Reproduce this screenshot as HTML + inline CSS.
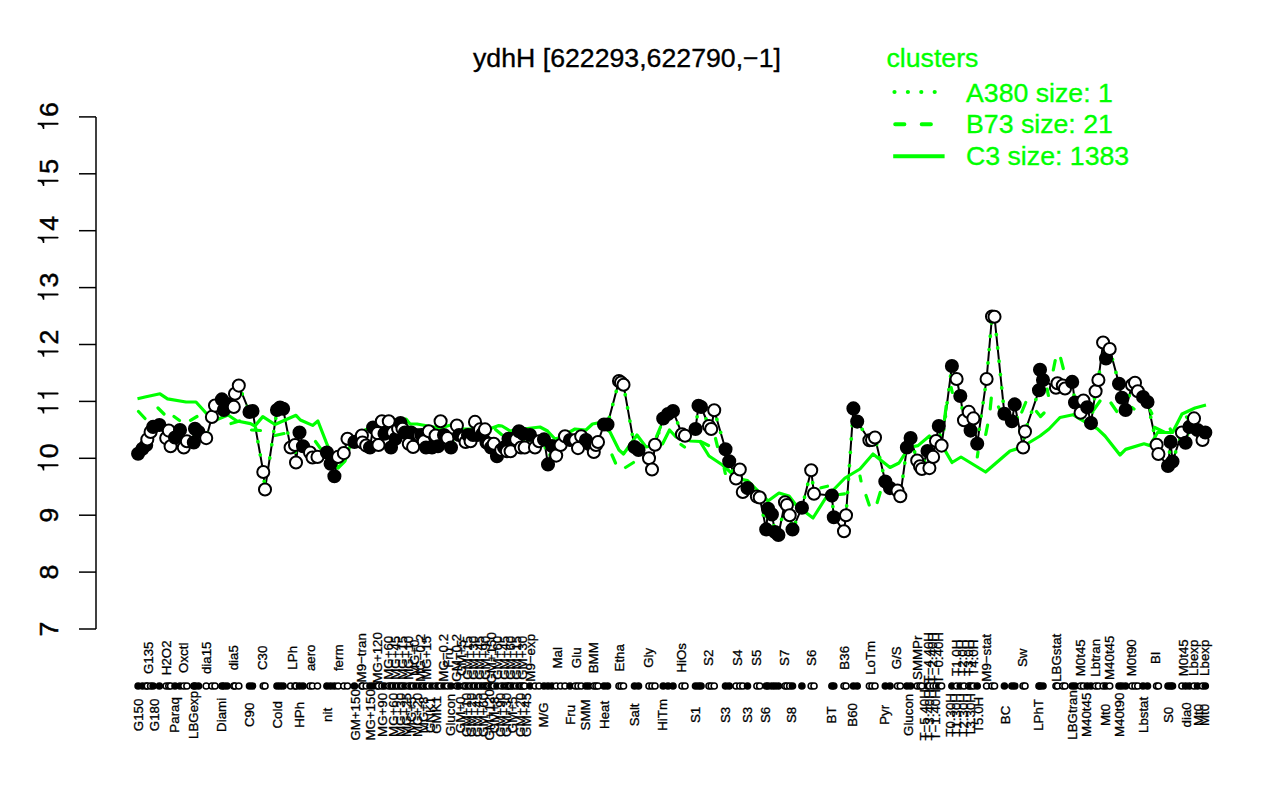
<!DOCTYPE html><html><head><meta charset="utf-8"><style>html,body{margin:0;padding:0;background:#fff;}svg{display:block}</style></head><body>
<svg width="1280" height="800" viewBox="0 0 1280 800" font-family="&quot;Liberation Sans&quot;, sans-serif">
<rect width="1280" height="800" fill="#fff"/>
<text x="473" y="67" font-size="26.7" fill="#000" stroke="#000" stroke-width="0.35">ydhH [622293,622790,−1]</text>
<text x="886.5" y="67.2" font-size="26.7" fill="#00ff00" stroke="#00ff00" stroke-width="0.35">clusters</text>
<line x1="894.5" y1="92" x2="944" y2="92" stroke="#00ff00" stroke-width="4.2" stroke-linecap="round" stroke-dasharray="0 13.4"/>
<line x1="895.2" y1="124.2" x2="944" y2="124.2" stroke="#00ff00" stroke-width="4" stroke-linecap="round" stroke-dasharray="9.2 17.3"/>
<line x1="893.2" y1="156.3" x2="944.6" y2="156.3" stroke="#00ff00" stroke-width="4"/>
<text x="966" y="101.9" font-size="26.7" fill="#00ff00" stroke="#00ff00" stroke-width="0.35">A380 size: 1</text>
<text x="966" y="133.4" font-size="26.7" fill="#00ff00" stroke="#00ff00" stroke-width="0.35">B73 size: 21</text>
<text x="966" y="165.3" font-size="26.7" fill="#00ff00" stroke="#00ff00" stroke-width="0.35">C3 size: 1383</text>
<path d="M96 116.9V629" stroke="#000" stroke-width="1.5" fill="none"/>
<path d="M79 629.00H96" stroke="#000" stroke-width="1.5"/>
<text transform="translate(57.6 629.00) rotate(-90)" text-anchor="middle" font-size="26.7" fill="#000" stroke="#000" stroke-width="0.45">7</text>
<path d="M79 572.10H96" stroke="#000" stroke-width="1.5"/>
<text transform="translate(57.6 572.10) rotate(-90)" text-anchor="middle" font-size="26.7" fill="#000" stroke="#000" stroke-width="0.45">8</text>
<path d="M79 515.20H96" stroke="#000" stroke-width="1.5"/>
<text transform="translate(57.6 515.20) rotate(-90)" text-anchor="middle" font-size="26.7" fill="#000" stroke="#000" stroke-width="0.45">9</text>
<path d="M79 458.30H96" stroke="#000" stroke-width="1.5"/>
<path d="M38.4 465.20H57.6" stroke="#000" stroke-width="1.95" stroke-linecap="round"/>
<path d="M38.2 464.30L38.6 465.50Q42.4 466.40 42.9 470.50L44.3 470.50L44.3 466.10Z" fill="#000"/>
<text transform="translate(57.6 450.90) rotate(-90)" text-anchor="middle" font-size="26.7" fill="#000" stroke="#000" stroke-width="0.45">0</text>
<path d="M79 401.40H96" stroke="#000" stroke-width="1.5"/>
<path d="M38.4 408.30H57.6" stroke="#000" stroke-width="1.95" stroke-linecap="round"/>
<path d="M38.2 407.40L38.6 408.60Q42.4 409.50 42.9 413.60L44.3 413.60L44.3 409.20Z" fill="#000"/>
<path d="M38.4 393.50H57.6" stroke="#000" stroke-width="1.95" stroke-linecap="round"/>
<path d="M38.2 392.60L38.6 393.80Q42.4 394.70 42.9 398.80L44.3 398.80L44.3 394.40Z" fill="#000"/>
<path d="M79 344.50H96" stroke="#000" stroke-width="1.5"/>
<path d="M38.4 351.40H57.6" stroke="#000" stroke-width="1.95" stroke-linecap="round"/>
<path d="M38.2 350.50L38.6 351.70Q42.4 352.60 42.9 356.70L44.3 356.70L44.3 352.30Z" fill="#000"/>
<text transform="translate(57.6 337.10) rotate(-90)" text-anchor="middle" font-size="26.7" fill="#000" stroke="#000" stroke-width="0.45">2</text>
<path d="M79 287.60H96" stroke="#000" stroke-width="1.5"/>
<path d="M38.4 294.50H57.6" stroke="#000" stroke-width="1.95" stroke-linecap="round"/>
<path d="M38.2 293.60L38.6 294.80Q42.4 295.70 42.9 299.80L44.3 299.80L44.3 295.40Z" fill="#000"/>
<text transform="translate(57.6 280.20) rotate(-90)" text-anchor="middle" font-size="26.7" fill="#000" stroke="#000" stroke-width="0.45">3</text>
<path d="M79 230.70H96" stroke="#000" stroke-width="1.5"/>
<path d="M38.4 237.60H57.6" stroke="#000" stroke-width="1.95" stroke-linecap="round"/>
<path d="M38.2 236.70L38.6 237.90Q42.4 238.80 42.9 242.90L44.3 242.90L44.3 238.50Z" fill="#000"/>
<text transform="translate(57.6 223.30) rotate(-90)" text-anchor="middle" font-size="26.7" fill="#000" stroke="#000" stroke-width="0.45">4</text>
<path d="M79 173.80H96" stroke="#000" stroke-width="1.5"/>
<path d="M38.4 180.70H57.6" stroke="#000" stroke-width="1.95" stroke-linecap="round"/>
<path d="M38.2 179.80L38.6 181.00Q42.4 181.90 42.9 186.00L44.3 186.00L44.3 181.60Z" fill="#000"/>
<text transform="translate(57.6 166.40) rotate(-90)" text-anchor="middle" font-size="26.7" fill="#000" stroke="#000" stroke-width="0.45">5</text>
<path d="M79 116.90H96" stroke="#000" stroke-width="1.5"/>
<path d="M38.4 123.80H57.6" stroke="#000" stroke-width="1.95" stroke-linecap="round"/>
<path d="M38.2 122.90L38.6 124.10Q42.4 125.00 42.9 129.10L44.3 129.10L44.3 124.70Z" fill="#000"/>
<text transform="translate(57.6 109.50) rotate(-90)" text-anchor="middle" font-size="26.7" fill="#000" stroke="#000" stroke-width="0.45">6</text>
<path d="M138.1 453.8 L142.5 448.8 L146.2 445.0 L147.3 439.4 L150.6 431.9 L153.1 426.9 L159.4 425.0 L166.2 438.1 L168.8 430.6 L170.6 446.2 L175.0 437.5 L180.0 430.0 L183.8 447.5 L186.9 441.2 L193.8 442.5 L195.0 428.8 L198.5 432.0 L206.2 438.1 L211.9 416.9 L215.0 405.6 L221.9 399.4 L223.8 410.0 L227.0 404.0 L233.8 406.9 L235.0 393.8 L238.8 385.6 L249.5 411.9 L252.5 411.0 L263.3 472.0 L265.0 489.5 L277.0 410.0 L280.0 407.5 L283.1 408.8 L290.6 447.5 L295.0 445.0 L296.0 462.5 L299.5 432.5 L303.0 446.2 L310.0 452.5 L312.5 457.5 L317.5 456.9 L326.9 452.5 L330.6 463.8 L334.4 476.2 L338.1 456.9 L343.8 453.1 L347.5 438.8 L354.4 441.9 L361.9 435.6 L362.5 442.5 L366.2 445.6 L370.0 447.5 L373.1 427.5 L377.5 433.1 L378.5 445.0 L381.9 421.2 L384.5 433.8 L388.8 421.2 L391.0 447.5 L393.1 432.5 L395.5 438.8 L398.1 428.8 L400.5 423.1 L402.5 428.8 L405.0 432.5 L408.8 443.8 L411.0 432.5 L413.1 446.9 L416.0 435.0 L419.4 435.6 L421.5 435.0 L423.8 441.2 L426.0 447.5 L428.8 431.2 L432.0 447.5 L435.6 435.6 L438.0 446.2 L440.6 421.2 L444.0 435.0 L447.5 438.1 L451.0 447.5 L456.9 425.6 L459.0 435.0 L463.8 437.5 L465.6 442.0 L468.0 435.0 L470.6 441.2 L473.0 435.0 L475.0 421.9 L477.5 435.0 L480.0 429.4 L482.5 433.8 L485.0 429.4 L486.5 442.5 L488.8 443.8 L491.0 447.5 L493.8 443.8 L497.0 456.2 L501.2 450.0 L504.0 447.5 L506.9 451.2 L508.5 438.8 L510.6 451.2 L513.0 438.8 L516.2 439.4 L519.0 431.2 L521.0 447.5 L523.0 433.8 L524.7 447.5 L530.0 435.0 L535.0 447.5 L539.0 441.2 L544.0 439.4 L548.0 464.4 L552.0 446.0 L556.2 455.6 L560.6 445.0 L565.0 436.2 L570.0 440.0 L575.3 440.0 L578.0 448.1 L581.2 436.2 L586.0 440.0 L589.0 444.0 L593.8 452.0 L596.0 445.0 L598.0 442.0 L604.0 424.5 L607.5 424.5 L619.0 381.0 L621.0 382.5 L623.5 384.8 L634.5 447.0 L638.5 450.0 L649.0 458.2 L652.0 469.5 L655.0 444.8 L663.2 418.5 L668.0 414.0 L673.0 411.0 L682.0 434.2 L685.0 435.8 L695.5 429.0 L698.5 405.8 L701.0 407.0 L709.0 426.0 L711.2 429.0 L714.2 410.2 L725.5 449.2 L729.2 461.2 L736.0 478.5 L739.8 469.5 L742.8 491.9 L747.5 488.1 L756.9 496.6 L759.7 497.5 L766.2 529.4 L768.1 508.8 L771.9 514.4 L775.0 532.0 L778.4 535.0 L785.0 502.2 L786.9 505.0 L789.7 515.3 L792.5 529.4 L801.9 507.8 L811.2 470.3 L814.0 493.8 L831.9 495.6 L833.8 517.2 L844.0 531.2 L846.0 515.3 L853.4 408.4 L857.2 421.6 L869.4 440.3 L872.0 440.0 L875.0 437.5 L885.3 481.6 L890.0 488.1 L897.5 490.6 L900.3 496.2 L906.9 447.5 L910.6 438.1 L917.2 460.6 L920.0 466.2 L921.9 469.0 L927.5 451.0 L929.4 468.1 L933.1 456.9 L936.0 441.0 L938.8 426.0 L941.6 445.6 L951.9 366.0 L956.6 379.0 L960.3 396.0 L964.0 420.3 L968.8 411.9 L970.6 430.6 L973.4 418.4 L977.2 443.8 L986.6 379.0 L992.0 316.5 L994.5 316.8 L1004.4 413.8 L1011.9 421.2 L1014.7 404.4 L1023.1 447.5 L1025.0 431.6 L1039.0 390.3 L1040.0 369.7 L1043.0 380.0 L1056.0 387.8 L1057.5 383.2 L1062.8 385.6 L1065.0 388.5 L1072.2 381.9 L1075.0 402.5 L1080.6 412.8 L1083.4 400.6 L1087.2 407.2 L1091.0 423.1 L1095.6 391.2 L1098.4 380.0 L1103.1 342.5 L1106.0 358.4 L1109.7 349.0 L1119.0 383.8 L1121.9 397.8 L1125.6 410.0 L1132.0 385.0 L1135.0 382.8 L1137.8 391.2 L1143.0 397.0 L1147.5 402.0 L1156.6 444.7 L1158.4 454.0 L1168.0 466.0 L1170.6 441.9 L1172.5 461.6 L1181.9 432.5 L1185.6 442.8 L1189.4 426.9 L1194.0 418.4 L1197.5 430.0 L1202.5 440.0 L1205.3 432.5" stroke="#000" stroke-width="2" fill="none"/>
<path d="M138.1 453.8 L142.5 448.8 L146.2 445.0 L147.3 439.4 L150.6 431.9 L153.1 426.9 L159.4 425.0 L166.2 438.1 L168.8 430.6 L170.6 446.2 L175.0 437.5 L180.0 430.0 L183.8 447.5 L186.9 441.2 L193.8 442.5 L195.0 428.8 L198.5 432.0 L206.2 438.1 L211.9 416.9 L215.0 405.6 L221.9 399.4 L223.8 410.0 L227.0 404.0 L233.8 406.9 L235.0 393.8 L238.8 385.6 L249.5 411.9 L252.5 411.0 L263.3 472.0 L265.0 489.5 L277.0 410.0 L280.0 407.5 L283.1 408.8 L290.6 447.5 L295.0 445.0 L296.0 462.5 L299.5 432.5 L303.0 446.2 L310.0 452.5 L312.5 457.5 L317.5 456.9 L326.9 452.5 L330.6 463.8 L334.4 476.2 L338.1 456.9 L343.8 453.1 L347.5 438.8 L354.4 441.9 L361.9 435.6 L362.5 442.5 L366.2 445.6 L370.0 447.5 L373.1 427.5 L377.5 433.1 L378.5 445.0 L381.9 421.2 L384.5 433.8 L388.8 421.2 L391.0 447.5 L393.1 432.5 L395.5 438.8 L398.1 428.8 L400.5 423.1 L402.5 428.8 L405.0 432.5 L408.8 443.8 L411.0 432.5 L413.1 446.9 L416.0 435.0 L419.4 435.6 L421.5 435.0 L423.8 441.2 L426.0 447.5 L428.8 431.2 L432.0 447.5 L435.6 435.6 L438.0 446.2 L440.6 421.2 L444.0 435.0 L447.5 438.1 L451.0 447.5 L456.9 425.6 L459.0 435.0 L463.8 437.5 L465.6 442.0 L468.0 435.0 L470.6 441.2 L473.0 435.0 L475.0 421.9 L477.5 435.0 L480.0 429.4 L482.5 433.8 L485.0 429.4 L486.5 442.5 L488.8 443.8 L491.0 447.5 L493.8 443.8 L497.0 456.2 L501.2 450.0 L504.0 447.5 L506.9 451.2 L508.5 438.8 L510.6 451.2 L513.0 438.8 L516.2 439.4 L519.0 431.2 L521.0 447.5 L523.0 433.8 L524.7 447.5 L530.0 435.0 L535.0 447.5 L539.0 441.2 L544.0 439.4 L548.0 464.4 L552.0 446.0 L556.2 455.6 L560.6 445.0 L565.0 436.2 L570.0 440.0 L575.3 440.0 L578.0 448.1 L581.2 436.2 L586.0 440.0 L589.0 444.0 L593.8 452.0 L596.0 445.0 L598.0 442.0 L604.0 424.5 L607.5 424.5 L619.0 381.0 L621.0 382.5 L623.5 384.8 L634.5 447.0 L638.5 450.0 L649.0 458.2 L652.0 469.5 L655.0 444.8 L663.2 418.5 L668.0 414.0 L673.0 411.0 L682.0 434.2 L685.0 435.8 L695.5 429.0 L698.5 405.8 L701.0 407.0 L709.0 426.0 L711.2 429.0 L714.2 410.2 L725.5 449.2 L729.2 461.2 L736.0 478.5 L739.8 469.5 L742.8 491.9 L747.5 488.1 L756.9 496.6 L759.7 497.5 L766.2 529.4 L768.1 508.8 L771.9 514.4 L775.0 532.0 L778.4 535.0 L785.0 502.2 L786.9 505.0 L789.7 515.3 L792.5 529.4 L801.9 507.8 L811.2 470.3 L814.0 493.8 L831.9 495.6 L833.8 517.2 L844.0 531.2 L846.0 515.3 L853.4 408.4 L857.2 421.6 L869.4 440.3 L872.0 440.0 L875.0 437.5 L885.3 481.6 L890.0 488.1 L897.5 490.6 L900.3 496.2 L906.9 447.5 L910.6 438.1 L917.2 460.6 L920.0 466.2 L921.9 469.0 L927.5 451.0 L929.4 468.1 L933.1 456.9 L936.0 441.0 L938.8 426.0 L941.6 445.6 L951.9 366.0 L956.6 379.0 L960.3 396.0 L964.0 420.3 L968.8 411.9 L970.6 430.6 L973.4 418.4 L977.2 443.8 L986.6 379.0 L992.0 316.5 L994.5 316.8 L1004.4 413.8 L1011.9 421.2 L1014.7 404.4 L1023.1 447.5 L1025.0 431.6 L1039.0 390.3 L1040.0 369.7 L1043.0 380.0 L1056.0 387.8 L1057.5 383.2 L1062.8 385.6 L1065.0 388.5 L1072.2 381.9 L1075.0 402.5 L1080.6 412.8 L1083.4 400.6 L1087.2 407.2 L1091.0 423.1 L1095.6 391.2 L1098.4 380.0 L1103.1 342.5 L1106.0 358.4 L1109.7 349.0 L1119.0 383.8 L1121.9 397.8 L1125.6 410.0 L1132.0 385.0 L1135.0 382.8 L1137.8 391.2 L1143.0 397.0 L1147.5 402.0 L1156.6 444.7 L1158.4 454.0 L1168.0 466.0 L1170.6 441.9 L1172.5 461.6 L1181.9 432.5 L1185.6 442.8 L1189.4 426.9 L1194.0 418.4 L1197.5 430.0 L1202.5 440.0 L1205.3 432.5" stroke="#00ff00" stroke-width="3.8" fill="none" stroke-linecap="round" stroke-dasharray="0 13.4"/>
<path d="M138.5 411.5L145.0 418.5 M158.0 408.0L164.0 414.0 M174.0 416.5L179.5 420.5 M190.5 420.3L197.0 416.5 M231.0 423.5L239.5 421.0 M251.5 430.0L260.5 430.5 M275.0 435.5L284.0 433.5 M315.5 441.5L320.5 448.5 M495.5 429.5L501.5 434.5 M612.0 455.0L615.5 463.0 M625.5 467.5L633.5 462.5 M656.5 436.5L660.5 427.0 M681.0 444.5L684.5 447.0 M700.5 441.5L708.5 445.5 M715.5 438.5L717.5 446.5 M724.2 468.5L725.3 473.5 M821.0 487.8L827.5 486.2 M839.5 494.5L844.5 493.9 M860.0 476.0L861.0 481.0 M866.0 495.5L869.2 505.0 M880.2 492.5L877.2 502.5 M946.2 406.0L944.5 419.5 M951.2 387.5L952.3 392.5 M991.3 398.0L990.2 409.0 M987.6 425.0L985.7 434.5 M978.0 452.0L977.3 457.0 M998.5 407.0L1001.0 412.0 M1025.7 402.5L1021.8 412.0 M1036.5 411.5L1040.5 416.5 M1040.5 416.5L1044.0 413.0 M1047.1 389.0L1048.4 395.5 M1053.3 370.0L1055.2 360.5 M1060.7 358.3L1063.3 368.5 M1094.0 409.5L1100.0 401.0 M1111.0 403.0L1116.8 411.5 M1132.0 407.5L1134.0 409.0 M1150.2 410.3L1151.8 413.5 M1154.3 427.3L1164.5 432.2 M1170.2 429.0L1171.5 432.0 M1186.5 417.0L1188.0 418.5" stroke="#00ff00" stroke-width="3.2" fill="none" stroke-linecap="round"/>
<path d="M137.5 398.8 L145.0 397.0 L160.0 393.8 L167.5 398.8 L186.0 402.0 L196.0 402.0 L206.0 413.0 L216.0 420.0 L228.0 415.0 L237.0 421.0 L250.5 423.6 L254.9 426.0 L262.8 416.6 L275.0 424.5 L282.9 421.0 L296.0 415.3 L300.4 420.0 L312.6 425.4 L317.9 421.0 L327.5 445.5 L338.0 468.0 L345.0 461.0 L350.0 446.0 L365.0 430.0 L392.5 420.0 L406.0 419.0 L410.0 424.0 L417.0 424.0 L428.0 426.0 L440.0 428.0 L451.0 425.0 L456.0 429.0 L471.0 429.0 L490.0 428.8 L498.8 425.6 L502.0 426.0 L510.0 431.0 L515.0 430.0 L540.0 427.0 L547.5 431.0 L555.0 439.0 L560.0 437.5 L575.0 429.0 L586.0 430.0 L592.5 424.0 L600.0 422.5 L610.0 432.0 L619.0 450.0 L623.5 454.0 L637.0 435.0 L646.0 447.0 L662.5 444.0 L669.5 430.0 L676.0 437.0 L690.5 441.0 L700.0 441.5 L709.0 456.0 L722.5 465.0 L737.5 478.5 L747.5 480.6 L768.0 501.0 L779.0 493.0 L789.0 496.0 L796.0 505.0 L813.0 518.0 L826.0 497.5 L845.0 478.0 L860.0 469.0 L873.0 454.0 L890.0 467.5 L899.0 463.0 L908.8 447.5 L918.0 445.6 L929.4 436.0 L944.4 449.4 L952.0 462.5 L961.0 457.0 L985.6 472.0 L1010.0 451.0 L1021.0 447.5 L1040.0 436.0 L1049.0 429.0 L1060.0 417.5 L1073.0 414.7 L1080.6 419.4 L1097.5 428.8 L1105.0 436.0 L1120.0 455.0 L1125.6 449.4 L1144.0 443.8 L1150.0 445.6 L1157.5 432.5 L1172.5 432.5 L1182.0 414.0 L1195.0 408.0 L1206.0 405.0" stroke="#00ff00" stroke-width="3.2" fill="none" stroke-linejoin="round"/>
<circle cx="138.1" cy="453.8" r="6.05" fill="#000" stroke="#000" stroke-width="2"/>
<circle cx="142.5" cy="448.8" r="6.05" fill="#000" stroke="#000" stroke-width="2"/>
<circle cx="146.2" cy="445.0" r="6.05" fill="#000" stroke="#000" stroke-width="2"/>
<circle cx="147.3" cy="439.4" r="6.05" fill="#fff" stroke="#000" stroke-width="2"/>
<circle cx="150.6" cy="431.9" r="6.05" fill="#fff" stroke="#000" stroke-width="2"/>
<circle cx="153.1" cy="426.9" r="6.05" fill="#000" stroke="#000" stroke-width="2"/>
<circle cx="159.4" cy="425.0" r="6.05" fill="#000" stroke="#000" stroke-width="2"/>
<circle cx="166.2" cy="438.1" r="6.05" fill="#fff" stroke="#000" stroke-width="2"/>
<circle cx="168.8" cy="430.6" r="6.05" fill="#fff" stroke="#000" stroke-width="2"/>
<circle cx="170.6" cy="446.2" r="6.05" fill="#fff" stroke="#000" stroke-width="2"/>
<circle cx="175.0" cy="437.5" r="6.05" fill="#000" stroke="#000" stroke-width="2"/>
<circle cx="180.0" cy="430.0" r="6.05" fill="#000" stroke="#000" stroke-width="2"/>
<circle cx="183.8" cy="447.5" r="6.05" fill="#fff" stroke="#000" stroke-width="2"/>
<circle cx="186.9" cy="441.2" r="6.05" fill="#fff" stroke="#000" stroke-width="2"/>
<circle cx="193.8" cy="442.5" r="6.05" fill="#000" stroke="#000" stroke-width="2"/>
<circle cx="195.0" cy="428.8" r="6.05" fill="#000" stroke="#000" stroke-width="2"/>
<circle cx="198.5" cy="432.0" r="6.05" fill="#000" stroke="#000" stroke-width="2"/>
<circle cx="206.2" cy="438.1" r="6.05" fill="#fff" stroke="#000" stroke-width="2"/>
<circle cx="211.9" cy="416.9" r="6.05" fill="#fff" stroke="#000" stroke-width="2"/>
<circle cx="215.0" cy="405.6" r="6.05" fill="#fff" stroke="#000" stroke-width="2"/>
<circle cx="221.9" cy="399.4" r="6.05" fill="#000" stroke="#000" stroke-width="2"/>
<circle cx="223.8" cy="410.0" r="6.05" fill="#000" stroke="#000" stroke-width="2"/>
<circle cx="227.0" cy="404.0" r="6.05" fill="#000" stroke="#000" stroke-width="2"/>
<circle cx="233.8" cy="406.9" r="6.05" fill="#fff" stroke="#000" stroke-width="2"/>
<circle cx="235.0" cy="393.8" r="6.05" fill="#fff" stroke="#000" stroke-width="2"/>
<circle cx="238.8" cy="385.6" r="6.05" fill="#fff" stroke="#000" stroke-width="2"/>
<circle cx="249.5" cy="411.9" r="6.05" fill="#000" stroke="#000" stroke-width="2"/>
<circle cx="252.5" cy="411.0" r="6.05" fill="#000" stroke="#000" stroke-width="2"/>
<circle cx="263.3" cy="472.0" r="6.05" fill="#fff" stroke="#000" stroke-width="2"/>
<circle cx="265.0" cy="489.5" r="6.05" fill="#fff" stroke="#000" stroke-width="2"/>
<circle cx="277.0" cy="410.0" r="6.05" fill="#000" stroke="#000" stroke-width="2"/>
<circle cx="280.0" cy="407.5" r="6.05" fill="#000" stroke="#000" stroke-width="2"/>
<circle cx="283.1" cy="408.8" r="6.05" fill="#000" stroke="#000" stroke-width="2"/>
<circle cx="290.6" cy="447.5" r="6.05" fill="#fff" stroke="#000" stroke-width="2"/>
<circle cx="295.0" cy="445.0" r="6.05" fill="#fff" stroke="#000" stroke-width="2"/>
<circle cx="296.0" cy="462.5" r="6.05" fill="#fff" stroke="#000" stroke-width="2"/>
<circle cx="299.5" cy="432.5" r="6.05" fill="#000" stroke="#000" stroke-width="2"/>
<circle cx="303.0" cy="446.2" r="6.05" fill="#000" stroke="#000" stroke-width="2"/>
<circle cx="310.0" cy="452.5" r="6.05" fill="#fff" stroke="#000" stroke-width="2"/>
<circle cx="312.5" cy="457.5" r="6.05" fill="#fff" stroke="#000" stroke-width="2"/>
<circle cx="317.5" cy="456.9" r="6.05" fill="#fff" stroke="#000" stroke-width="2"/>
<circle cx="326.9" cy="452.5" r="6.05" fill="#000" stroke="#000" stroke-width="2"/>
<circle cx="330.6" cy="463.8" r="6.05" fill="#000" stroke="#000" stroke-width="2"/>
<circle cx="334.4" cy="476.2" r="6.05" fill="#000" stroke="#000" stroke-width="2"/>
<circle cx="338.1" cy="456.9" r="6.05" fill="#fff" stroke="#000" stroke-width="2"/>
<circle cx="343.8" cy="453.1" r="6.05" fill="#fff" stroke="#000" stroke-width="2"/>
<circle cx="347.5" cy="438.8" r="6.05" fill="#fff" stroke="#000" stroke-width="2"/>
<circle cx="354.4" cy="441.9" r="6.05" fill="#000" stroke="#000" stroke-width="2"/>
<circle cx="361.9" cy="435.6" r="6.05" fill="#fff" stroke="#000" stroke-width="2"/>
<circle cx="362.5" cy="442.5" r="6.05" fill="#fff" stroke="#000" stroke-width="2"/>
<circle cx="366.2" cy="445.6" r="6.05" fill="#fff" stroke="#000" stroke-width="2"/>
<circle cx="370.0" cy="447.5" r="6.05" fill="#000" stroke="#000" stroke-width="2"/>
<circle cx="373.1" cy="427.5" r="6.05" fill="#000" stroke="#000" stroke-width="2"/>
<circle cx="377.5" cy="433.1" r="6.05" fill="#fff" stroke="#000" stroke-width="2"/>
<circle cx="378.5" cy="445.0" r="6.05" fill="#fff" stroke="#000" stroke-width="2"/>
<circle cx="381.9" cy="421.2" r="6.05" fill="#fff" stroke="#000" stroke-width="2"/>
<circle cx="384.5" cy="433.8" r="6.05" fill="#000" stroke="#000" stroke-width="2"/>
<circle cx="388.8" cy="421.2" r="6.05" fill="#fff" stroke="#000" stroke-width="2"/>
<circle cx="391.0" cy="447.5" r="6.05" fill="#000" stroke="#000" stroke-width="2"/>
<circle cx="393.1" cy="432.5" r="6.05" fill="#fff" stroke="#000" stroke-width="2"/>
<circle cx="395.5" cy="438.8" r="6.05" fill="#000" stroke="#000" stroke-width="2"/>
<circle cx="398.1" cy="428.8" r="6.05" fill="#fff" stroke="#000" stroke-width="2"/>
<circle cx="400.5" cy="423.1" r="6.05" fill="#000" stroke="#000" stroke-width="2"/>
<circle cx="402.5" cy="428.8" r="6.05" fill="#fff" stroke="#000" stroke-width="2"/>
<circle cx="405.0" cy="432.5" r="6.05" fill="#000" stroke="#000" stroke-width="2"/>
<circle cx="408.8" cy="443.8" r="6.05" fill="#fff" stroke="#000" stroke-width="2"/>
<circle cx="411.0" cy="432.5" r="6.05" fill="#000" stroke="#000" stroke-width="2"/>
<circle cx="413.1" cy="446.9" r="6.05" fill="#fff" stroke="#000" stroke-width="2"/>
<circle cx="416.0" cy="435.0" r="6.05" fill="#000" stroke="#000" stroke-width="2"/>
<circle cx="419.4" cy="435.6" r="6.05" fill="#fff" stroke="#000" stroke-width="2"/>
<circle cx="421.5" cy="435.0" r="6.05" fill="#000" stroke="#000" stroke-width="2"/>
<circle cx="423.8" cy="441.2" r="6.05" fill="#fff" stroke="#000" stroke-width="2"/>
<circle cx="426.0" cy="447.5" r="6.05" fill="#000" stroke="#000" stroke-width="2"/>
<circle cx="428.8" cy="431.2" r="6.05" fill="#fff" stroke="#000" stroke-width="2"/>
<circle cx="432.0" cy="447.5" r="6.05" fill="#000" stroke="#000" stroke-width="2"/>
<circle cx="435.6" cy="435.6" r="6.05" fill="#fff" stroke="#000" stroke-width="2"/>
<circle cx="438.0" cy="446.2" r="6.05" fill="#000" stroke="#000" stroke-width="2"/>
<circle cx="440.6" cy="421.2" r="6.05" fill="#fff" stroke="#000" stroke-width="2"/>
<circle cx="444.0" cy="435.0" r="6.05" fill="#000" stroke="#000" stroke-width="2"/>
<circle cx="447.5" cy="438.1" r="6.05" fill="#fff" stroke="#000" stroke-width="2"/>
<circle cx="451.0" cy="447.5" r="6.05" fill="#000" stroke="#000" stroke-width="2"/>
<circle cx="456.9" cy="425.6" r="6.05" fill="#fff" stroke="#000" stroke-width="2"/>
<circle cx="459.0" cy="435.0" r="6.05" fill="#000" stroke="#000" stroke-width="2"/>
<circle cx="463.8" cy="437.5" r="6.05" fill="#fff" stroke="#000" stroke-width="2"/>
<circle cx="465.6" cy="442.0" r="6.05" fill="#fff" stroke="#000" stroke-width="2"/>
<circle cx="468.0" cy="435.0" r="6.05" fill="#000" stroke="#000" stroke-width="2"/>
<circle cx="470.6" cy="441.2" r="6.05" fill="#fff" stroke="#000" stroke-width="2"/>
<circle cx="473.0" cy="435.0" r="6.05" fill="#000" stroke="#000" stroke-width="2"/>
<circle cx="475.0" cy="421.9" r="6.05" fill="#fff" stroke="#000" stroke-width="2"/>
<circle cx="477.5" cy="435.0" r="6.05" fill="#000" stroke="#000" stroke-width="2"/>
<circle cx="480.0" cy="429.4" r="6.05" fill="#fff" stroke="#000" stroke-width="2"/>
<circle cx="482.5" cy="433.8" r="6.05" fill="#000" stroke="#000" stroke-width="2"/>
<circle cx="485.0" cy="429.4" r="6.05" fill="#fff" stroke="#000" stroke-width="2"/>
<circle cx="486.5" cy="442.5" r="6.05" fill="#000" stroke="#000" stroke-width="2"/>
<circle cx="488.8" cy="443.8" r="6.05" fill="#fff" stroke="#000" stroke-width="2"/>
<circle cx="491.0" cy="447.5" r="6.05" fill="#000" stroke="#000" stroke-width="2"/>
<circle cx="493.8" cy="443.8" r="6.05" fill="#fff" stroke="#000" stroke-width="2"/>
<circle cx="497.0" cy="456.2" r="6.05" fill="#000" stroke="#000" stroke-width="2"/>
<circle cx="501.2" cy="450.0" r="6.05" fill="#fff" stroke="#000" stroke-width="2"/>
<circle cx="504.0" cy="447.5" r="6.05" fill="#000" stroke="#000" stroke-width="2"/>
<circle cx="506.9" cy="451.2" r="6.05" fill="#fff" stroke="#000" stroke-width="2"/>
<circle cx="508.5" cy="438.8" r="6.05" fill="#000" stroke="#000" stroke-width="2"/>
<circle cx="510.6" cy="451.2" r="6.05" fill="#fff" stroke="#000" stroke-width="2"/>
<circle cx="513.0" cy="438.8" r="6.05" fill="#000" stroke="#000" stroke-width="2"/>
<circle cx="516.2" cy="439.4" r="6.05" fill="#fff" stroke="#000" stroke-width="2"/>
<circle cx="519.0" cy="431.2" r="6.05" fill="#000" stroke="#000" stroke-width="2"/>
<circle cx="521.0" cy="447.5" r="6.05" fill="#fff" stroke="#000" stroke-width="2"/>
<circle cx="523.0" cy="433.8" r="6.05" fill="#000" stroke="#000" stroke-width="2"/>
<circle cx="524.7" cy="447.5" r="6.05" fill="#fff" stroke="#000" stroke-width="2"/>
<circle cx="530.0" cy="435.0" r="6.05" fill="#000" stroke="#000" stroke-width="2"/>
<circle cx="535.0" cy="447.5" r="6.05" fill="#fff" stroke="#000" stroke-width="2"/>
<circle cx="539.0" cy="441.2" r="6.05" fill="#fff" stroke="#000" stroke-width="2"/>
<circle cx="544.0" cy="439.4" r="6.05" fill="#000" stroke="#000" stroke-width="2"/>
<circle cx="548.0" cy="464.4" r="6.05" fill="#000" stroke="#000" stroke-width="2"/>
<circle cx="552.0" cy="446.0" r="6.05" fill="#000" stroke="#000" stroke-width="2"/>
<circle cx="556.2" cy="455.6" r="6.05" fill="#fff" stroke="#000" stroke-width="2"/>
<circle cx="560.6" cy="445.0" r="6.05" fill="#fff" stroke="#000" stroke-width="2"/>
<circle cx="565.0" cy="436.2" r="6.05" fill="#fff" stroke="#000" stroke-width="2"/>
<circle cx="570.0" cy="440.0" r="6.05" fill="#000" stroke="#000" stroke-width="2"/>
<circle cx="575.3" cy="440.0" r="6.05" fill="#fff" stroke="#000" stroke-width="2"/>
<circle cx="578.0" cy="448.1" r="6.05" fill="#fff" stroke="#000" stroke-width="2"/>
<circle cx="581.2" cy="436.2" r="6.05" fill="#fff" stroke="#000" stroke-width="2"/>
<circle cx="586.0" cy="440.0" r="6.05" fill="#000" stroke="#000" stroke-width="2"/>
<circle cx="589.0" cy="444.0" r="6.05" fill="#000" stroke="#000" stroke-width="2"/>
<circle cx="593.8" cy="452.0" r="6.05" fill="#fff" stroke="#000" stroke-width="2"/>
<circle cx="596.0" cy="445.0" r="6.05" fill="#fff" stroke="#000" stroke-width="2"/>
<circle cx="598.0" cy="442.0" r="6.05" fill="#fff" stroke="#000" stroke-width="2"/>
<circle cx="604.0" cy="424.5" r="6.05" fill="#000" stroke="#000" stroke-width="2"/>
<circle cx="607.5" cy="424.5" r="6.05" fill="#000" stroke="#000" stroke-width="2"/>
<circle cx="619.0" cy="381.0" r="6.05" fill="#fff" stroke="#000" stroke-width="2"/>
<circle cx="621.0" cy="382.5" r="6.05" fill="#fff" stroke="#000" stroke-width="2"/>
<circle cx="623.5" cy="384.8" r="6.05" fill="#fff" stroke="#000" stroke-width="2"/>
<circle cx="634.5" cy="447.0" r="6.05" fill="#000" stroke="#000" stroke-width="2"/>
<circle cx="638.5" cy="450.0" r="6.05" fill="#000" stroke="#000" stroke-width="2"/>
<circle cx="649.0" cy="458.2" r="6.05" fill="#fff" stroke="#000" stroke-width="2"/>
<circle cx="652.0" cy="469.5" r="6.05" fill="#fff" stroke="#000" stroke-width="2"/>
<circle cx="655.0" cy="444.8" r="6.05" fill="#fff" stroke="#000" stroke-width="2"/>
<circle cx="663.2" cy="418.5" r="6.05" fill="#000" stroke="#000" stroke-width="2"/>
<circle cx="668.0" cy="414.0" r="6.05" fill="#000" stroke="#000" stroke-width="2"/>
<circle cx="673.0" cy="411.0" r="6.05" fill="#000" stroke="#000" stroke-width="2"/>
<circle cx="682.0" cy="434.2" r="6.05" fill="#fff" stroke="#000" stroke-width="2"/>
<circle cx="685.0" cy="435.8" r="6.05" fill="#fff" stroke="#000" stroke-width="2"/>
<circle cx="695.5" cy="429.0" r="6.05" fill="#000" stroke="#000" stroke-width="2"/>
<circle cx="698.5" cy="405.8" r="6.05" fill="#000" stroke="#000" stroke-width="2"/>
<circle cx="701.0" cy="407.0" r="6.05" fill="#000" stroke="#000" stroke-width="2"/>
<circle cx="709.0" cy="426.0" r="6.05" fill="#fff" stroke="#000" stroke-width="2"/>
<circle cx="711.2" cy="429.0" r="6.05" fill="#fff" stroke="#000" stroke-width="2"/>
<circle cx="714.2" cy="410.2" r="6.05" fill="#fff" stroke="#000" stroke-width="2"/>
<circle cx="725.5" cy="449.2" r="6.05" fill="#000" stroke="#000" stroke-width="2"/>
<circle cx="729.2" cy="461.2" r="6.05" fill="#000" stroke="#000" stroke-width="2"/>
<circle cx="736.0" cy="478.5" r="6.05" fill="#fff" stroke="#000" stroke-width="2"/>
<circle cx="739.8" cy="469.5" r="6.05" fill="#fff" stroke="#000" stroke-width="2"/>
<circle cx="742.8" cy="491.9" r="6.05" fill="#fff" stroke="#000" stroke-width="2"/>
<circle cx="747.5" cy="488.1" r="6.05" fill="#000" stroke="#000" stroke-width="2"/>
<circle cx="756.9" cy="496.6" r="6.05" fill="#fff" stroke="#000" stroke-width="2"/>
<circle cx="759.7" cy="497.5" r="6.05" fill="#fff" stroke="#000" stroke-width="2"/>
<circle cx="766.2" cy="529.4" r="6.05" fill="#000" stroke="#000" stroke-width="2"/>
<circle cx="768.1" cy="508.8" r="6.05" fill="#000" stroke="#000" stroke-width="2"/>
<circle cx="771.9" cy="514.4" r="6.05" fill="#000" stroke="#000" stroke-width="2"/>
<circle cx="775.0" cy="532.0" r="6.05" fill="#000" stroke="#000" stroke-width="2"/>
<circle cx="778.4" cy="535.0" r="6.05" fill="#000" stroke="#000" stroke-width="2"/>
<circle cx="785.0" cy="502.2" r="6.05" fill="#fff" stroke="#000" stroke-width="2"/>
<circle cx="786.9" cy="505.0" r="6.05" fill="#fff" stroke="#000" stroke-width="2"/>
<circle cx="789.7" cy="515.3" r="6.05" fill="#fff" stroke="#000" stroke-width="2"/>
<circle cx="792.5" cy="529.4" r="6.05" fill="#000" stroke="#000" stroke-width="2"/>
<circle cx="801.9" cy="507.8" r="6.05" fill="#000" stroke="#000" stroke-width="2"/>
<circle cx="811.2" cy="470.3" r="6.05" fill="#fff" stroke="#000" stroke-width="2"/>
<circle cx="814.0" cy="493.8" r="6.05" fill="#fff" stroke="#000" stroke-width="2"/>
<circle cx="831.9" cy="495.6" r="6.05" fill="#000" stroke="#000" stroke-width="2"/>
<circle cx="833.8" cy="517.2" r="6.05" fill="#000" stroke="#000" stroke-width="2"/>
<circle cx="844.0" cy="531.2" r="6.05" fill="#fff" stroke="#000" stroke-width="2"/>
<circle cx="846.0" cy="515.3" r="6.05" fill="#fff" stroke="#000" stroke-width="2"/>
<circle cx="853.4" cy="408.4" r="6.05" fill="#000" stroke="#000" stroke-width="2"/>
<circle cx="857.2" cy="421.6" r="6.05" fill="#000" stroke="#000" stroke-width="2"/>
<circle cx="869.4" cy="440.3" r="6.05" fill="#fff" stroke="#000" stroke-width="2"/>
<circle cx="872.0" cy="440.0" r="6.05" fill="#fff" stroke="#000" stroke-width="2"/>
<circle cx="875.0" cy="437.5" r="6.05" fill="#fff" stroke="#000" stroke-width="2"/>
<circle cx="885.3" cy="481.6" r="6.05" fill="#000" stroke="#000" stroke-width="2"/>
<circle cx="890.0" cy="488.1" r="6.05" fill="#000" stroke="#000" stroke-width="2"/>
<circle cx="897.5" cy="490.6" r="6.05" fill="#fff" stroke="#000" stroke-width="2"/>
<circle cx="900.3" cy="496.2" r="6.05" fill="#fff" stroke="#000" stroke-width="2"/>
<circle cx="906.9" cy="447.5" r="6.05" fill="#000" stroke="#000" stroke-width="2"/>
<circle cx="910.6" cy="438.1" r="6.05" fill="#000" stroke="#000" stroke-width="2"/>
<circle cx="917.2" cy="460.6" r="6.05" fill="#fff" stroke="#000" stroke-width="2"/>
<circle cx="920.0" cy="466.2" r="6.05" fill="#fff" stroke="#000" stroke-width="2"/>
<circle cx="921.9" cy="469.0" r="6.05" fill="#fff" stroke="#000" stroke-width="2"/>
<circle cx="927.5" cy="451.0" r="6.05" fill="#000" stroke="#000" stroke-width="2"/>
<circle cx="929.4" cy="468.1" r="6.05" fill="#fff" stroke="#000" stroke-width="2"/>
<circle cx="933.1" cy="456.9" r="6.05" fill="#fff" stroke="#000" stroke-width="2"/>
<circle cx="936.0" cy="441.0" r="6.05" fill="#fff" stroke="#000" stroke-width="2"/>
<circle cx="938.8" cy="426.0" r="6.05" fill="#000" stroke="#000" stroke-width="2"/>
<circle cx="941.6" cy="445.6" r="6.05" fill="#fff" stroke="#000" stroke-width="2"/>
<circle cx="951.9" cy="366.0" r="6.05" fill="#000" stroke="#000" stroke-width="2"/>
<circle cx="956.6" cy="379.0" r="6.05" fill="#fff" stroke="#000" stroke-width="2"/>
<circle cx="960.3" cy="396.0" r="6.05" fill="#000" stroke="#000" stroke-width="2"/>
<circle cx="964.0" cy="420.3" r="6.05" fill="#fff" stroke="#000" stroke-width="2"/>
<circle cx="968.8" cy="411.9" r="6.05" fill="#fff" stroke="#000" stroke-width="2"/>
<circle cx="970.6" cy="430.6" r="6.05" fill="#000" stroke="#000" stroke-width="2"/>
<circle cx="973.4" cy="418.4" r="6.05" fill="#fff" stroke="#000" stroke-width="2"/>
<circle cx="977.2" cy="443.8" r="6.05" fill="#000" stroke="#000" stroke-width="2"/>
<circle cx="986.6" cy="379.0" r="6.05" fill="#fff" stroke="#000" stroke-width="2"/>
<circle cx="992.0" cy="316.5" r="6.05" fill="#fff" stroke="#000" stroke-width="2"/>
<circle cx="994.5" cy="316.8" r="6.05" fill="#fff" stroke="#000" stroke-width="2"/>
<circle cx="1004.4" cy="413.8" r="6.05" fill="#000" stroke="#000" stroke-width="2"/>
<circle cx="1011.9" cy="421.2" r="6.05" fill="#000" stroke="#000" stroke-width="2"/>
<circle cx="1014.7" cy="404.4" r="6.05" fill="#000" stroke="#000" stroke-width="2"/>
<circle cx="1023.1" cy="447.5" r="6.05" fill="#fff" stroke="#000" stroke-width="2"/>
<circle cx="1025.0" cy="431.6" r="6.05" fill="#fff" stroke="#000" stroke-width="2"/>
<circle cx="1039.0" cy="390.3" r="6.05" fill="#000" stroke="#000" stroke-width="2"/>
<circle cx="1040.0" cy="369.7" r="6.05" fill="#000" stroke="#000" stroke-width="2"/>
<circle cx="1043.0" cy="380.0" r="6.05" fill="#000" stroke="#000" stroke-width="2"/>
<circle cx="1056.0" cy="387.8" r="6.05" fill="#fff" stroke="#000" stroke-width="2"/>
<circle cx="1057.5" cy="383.2" r="6.05" fill="#fff" stroke="#000" stroke-width="2"/>
<circle cx="1062.8" cy="385.6" r="6.05" fill="#fff" stroke="#000" stroke-width="2"/>
<circle cx="1065.0" cy="388.5" r="6.05" fill="#fff" stroke="#000" stroke-width="2"/>
<circle cx="1072.2" cy="381.9" r="6.05" fill="#000" stroke="#000" stroke-width="2"/>
<circle cx="1075.0" cy="402.5" r="6.05" fill="#000" stroke="#000" stroke-width="2"/>
<circle cx="1080.6" cy="412.8" r="6.05" fill="#fff" stroke="#000" stroke-width="2"/>
<circle cx="1083.4" cy="400.6" r="6.05" fill="#fff" stroke="#000" stroke-width="2"/>
<circle cx="1087.2" cy="407.2" r="6.05" fill="#000" stroke="#000" stroke-width="2"/>
<circle cx="1091.0" cy="423.1" r="6.05" fill="#000" stroke="#000" stroke-width="2"/>
<circle cx="1095.6" cy="391.2" r="6.05" fill="#fff" stroke="#000" stroke-width="2"/>
<circle cx="1098.4" cy="380.0" r="6.05" fill="#fff" stroke="#000" stroke-width="2"/>
<circle cx="1103.1" cy="342.5" r="6.05" fill="#fff" stroke="#000" stroke-width="2"/>
<circle cx="1106.0" cy="358.4" r="6.05" fill="#000" stroke="#000" stroke-width="2"/>
<circle cx="1109.7" cy="349.0" r="6.05" fill="#fff" stroke="#000" stroke-width="2"/>
<circle cx="1119.0" cy="383.8" r="6.05" fill="#000" stroke="#000" stroke-width="2"/>
<circle cx="1121.9" cy="397.8" r="6.05" fill="#000" stroke="#000" stroke-width="2"/>
<circle cx="1125.6" cy="410.0" r="6.05" fill="#000" stroke="#000" stroke-width="2"/>
<circle cx="1132.0" cy="385.0" r="6.05" fill="#fff" stroke="#000" stroke-width="2"/>
<circle cx="1135.0" cy="382.8" r="6.05" fill="#fff" stroke="#000" stroke-width="2"/>
<circle cx="1137.8" cy="391.2" r="6.05" fill="#fff" stroke="#000" stroke-width="2"/>
<circle cx="1143.0" cy="397.0" r="6.05" fill="#000" stroke="#000" stroke-width="2"/>
<circle cx="1147.5" cy="402.0" r="6.05" fill="#000" stroke="#000" stroke-width="2"/>
<circle cx="1156.6" cy="444.7" r="6.05" fill="#fff" stroke="#000" stroke-width="2"/>
<circle cx="1158.4" cy="454.0" r="6.05" fill="#fff" stroke="#000" stroke-width="2"/>
<circle cx="1168.0" cy="466.0" r="6.05" fill="#000" stroke="#000" stroke-width="2"/>
<circle cx="1170.6" cy="441.9" r="6.05" fill="#000" stroke="#000" stroke-width="2"/>
<circle cx="1172.5" cy="461.6" r="6.05" fill="#000" stroke="#000" stroke-width="2"/>
<circle cx="1181.9" cy="432.5" r="6.05" fill="#fff" stroke="#000" stroke-width="2"/>
<circle cx="1185.6" cy="442.8" r="6.05" fill="#000" stroke="#000" stroke-width="2"/>
<circle cx="1189.4" cy="426.9" r="6.05" fill="#000" stroke="#000" stroke-width="2"/>
<circle cx="1194.0" cy="418.4" r="6.05" fill="#fff" stroke="#000" stroke-width="2"/>
<circle cx="1197.5" cy="430.0" r="6.05" fill="#000" stroke="#000" stroke-width="2"/>
<circle cx="1202.5" cy="440.0" r="6.05" fill="#fff" stroke="#000" stroke-width="2"/>
<circle cx="1205.3" cy="432.5" r="6.05" fill="#000" stroke="#000" stroke-width="2"/>
<circle cx="138.1" cy="686" r="3.05" fill="#000" stroke="#000" stroke-width="1.55"/>
<circle cx="142.5" cy="686" r="3.05" fill="#000" stroke="#000" stroke-width="1.55"/>
<circle cx="146.2" cy="686" r="3.05" fill="#000" stroke="#000" stroke-width="1.55"/>
<circle cx="147.3" cy="686" r="3.05" fill="#fff" stroke="#000" stroke-width="1.55"/>
<circle cx="150.6" cy="686" r="3.05" fill="#fff" stroke="#000" stroke-width="1.55"/>
<circle cx="153.1" cy="686" r="3.05" fill="#000" stroke="#000" stroke-width="1.55"/>
<circle cx="159.4" cy="686" r="3.05" fill="#000" stroke="#000" stroke-width="1.55"/>
<circle cx="166.2" cy="686" r="3.05" fill="#fff" stroke="#000" stroke-width="1.55"/>
<circle cx="168.8" cy="686" r="3.05" fill="#fff" stroke="#000" stroke-width="1.55"/>
<circle cx="170.6" cy="686" r="3.05" fill="#fff" stroke="#000" stroke-width="1.55"/>
<circle cx="175.0" cy="686" r="3.05" fill="#000" stroke="#000" stroke-width="1.55"/>
<circle cx="180.0" cy="686" r="3.05" fill="#000" stroke="#000" stroke-width="1.55"/>
<circle cx="183.8" cy="686" r="3.05" fill="#fff" stroke="#000" stroke-width="1.55"/>
<circle cx="186.9" cy="686" r="3.05" fill="#fff" stroke="#000" stroke-width="1.55"/>
<circle cx="193.8" cy="686" r="3.05" fill="#000" stroke="#000" stroke-width="1.55"/>
<circle cx="195.0" cy="686" r="3.05" fill="#000" stroke="#000" stroke-width="1.55"/>
<circle cx="198.5" cy="686" r="3.05" fill="#000" stroke="#000" stroke-width="1.55"/>
<circle cx="206.2" cy="686" r="3.05" fill="#fff" stroke="#000" stroke-width="1.55"/>
<circle cx="211.9" cy="686" r="3.05" fill="#fff" stroke="#000" stroke-width="1.55"/>
<circle cx="215.0" cy="686" r="3.05" fill="#fff" stroke="#000" stroke-width="1.55"/>
<circle cx="221.9" cy="686" r="3.05" fill="#000" stroke="#000" stroke-width="1.55"/>
<circle cx="223.8" cy="686" r="3.05" fill="#000" stroke="#000" stroke-width="1.55"/>
<circle cx="227.0" cy="686" r="3.05" fill="#000" stroke="#000" stroke-width="1.55"/>
<circle cx="233.8" cy="686" r="3.05" fill="#fff" stroke="#000" stroke-width="1.55"/>
<circle cx="235.0" cy="686" r="3.05" fill="#fff" stroke="#000" stroke-width="1.55"/>
<circle cx="238.8" cy="686" r="3.05" fill="#fff" stroke="#000" stroke-width="1.55"/>
<circle cx="249.5" cy="686" r="3.05" fill="#000" stroke="#000" stroke-width="1.55"/>
<circle cx="252.5" cy="686" r="3.05" fill="#000" stroke="#000" stroke-width="1.55"/>
<circle cx="263.3" cy="686" r="3.05" fill="#fff" stroke="#000" stroke-width="1.55"/>
<circle cx="265.0" cy="686" r="3.05" fill="#fff" stroke="#000" stroke-width="1.55"/>
<circle cx="277.0" cy="686" r="3.05" fill="#000" stroke="#000" stroke-width="1.55"/>
<circle cx="280.0" cy="686" r="3.05" fill="#000" stroke="#000" stroke-width="1.55"/>
<circle cx="283.1" cy="686" r="3.05" fill="#000" stroke="#000" stroke-width="1.55"/>
<circle cx="290.6" cy="686" r="3.05" fill="#fff" stroke="#000" stroke-width="1.55"/>
<circle cx="295.0" cy="686" r="3.05" fill="#fff" stroke="#000" stroke-width="1.55"/>
<circle cx="296.0" cy="686" r="3.05" fill="#fff" stroke="#000" stroke-width="1.55"/>
<circle cx="299.5" cy="686" r="3.05" fill="#000" stroke="#000" stroke-width="1.55"/>
<circle cx="303.0" cy="686" r="3.05" fill="#000" stroke="#000" stroke-width="1.55"/>
<circle cx="310.0" cy="686" r="3.05" fill="#fff" stroke="#000" stroke-width="1.55"/>
<circle cx="312.5" cy="686" r="3.05" fill="#fff" stroke="#000" stroke-width="1.55"/>
<circle cx="317.5" cy="686" r="3.05" fill="#fff" stroke="#000" stroke-width="1.55"/>
<circle cx="326.9" cy="686" r="3.05" fill="#000" stroke="#000" stroke-width="1.55"/>
<circle cx="330.6" cy="686" r="3.05" fill="#000" stroke="#000" stroke-width="1.55"/>
<circle cx="334.4" cy="686" r="3.05" fill="#000" stroke="#000" stroke-width="1.55"/>
<circle cx="338.1" cy="686" r="3.05" fill="#fff" stroke="#000" stroke-width="1.55"/>
<circle cx="343.8" cy="686" r="3.05" fill="#fff" stroke="#000" stroke-width="1.55"/>
<circle cx="347.5" cy="686" r="3.05" fill="#fff" stroke="#000" stroke-width="1.55"/>
<circle cx="354.4" cy="686" r="3.05" fill="#000" stroke="#000" stroke-width="1.55"/>
<circle cx="361.9" cy="686" r="3.05" fill="#fff" stroke="#000" stroke-width="1.55"/>
<circle cx="362.5" cy="686" r="3.05" fill="#fff" stroke="#000" stroke-width="1.55"/>
<circle cx="366.2" cy="686" r="3.05" fill="#fff" stroke="#000" stroke-width="1.55"/>
<circle cx="370.0" cy="686" r="3.05" fill="#000" stroke="#000" stroke-width="1.55"/>
<circle cx="373.1" cy="686" r="3.05" fill="#000" stroke="#000" stroke-width="1.55"/>
<circle cx="377.5" cy="686" r="3.05" fill="#fff" stroke="#000" stroke-width="1.55"/>
<circle cx="378.5" cy="686" r="3.05" fill="#fff" stroke="#000" stroke-width="1.55"/>
<circle cx="381.9" cy="686" r="3.05" fill="#fff" stroke="#000" stroke-width="1.55"/>
<circle cx="384.5" cy="686" r="3.05" fill="#000" stroke="#000" stroke-width="1.55"/>
<circle cx="388.8" cy="686" r="3.05" fill="#fff" stroke="#000" stroke-width="1.55"/>
<circle cx="391.0" cy="686" r="3.05" fill="#000" stroke="#000" stroke-width="1.55"/>
<circle cx="393.1" cy="686" r="3.05" fill="#fff" stroke="#000" stroke-width="1.55"/>
<circle cx="395.5" cy="686" r="3.05" fill="#000" stroke="#000" stroke-width="1.55"/>
<circle cx="398.1" cy="686" r="3.05" fill="#fff" stroke="#000" stroke-width="1.55"/>
<circle cx="400.5" cy="686" r="3.05" fill="#000" stroke="#000" stroke-width="1.55"/>
<circle cx="402.5" cy="686" r="3.05" fill="#fff" stroke="#000" stroke-width="1.55"/>
<circle cx="405.0" cy="686" r="3.05" fill="#000" stroke="#000" stroke-width="1.55"/>
<circle cx="408.8" cy="686" r="3.05" fill="#fff" stroke="#000" stroke-width="1.55"/>
<circle cx="411.0" cy="686" r="3.05" fill="#000" stroke="#000" stroke-width="1.55"/>
<circle cx="413.1" cy="686" r="3.05" fill="#fff" stroke="#000" stroke-width="1.55"/>
<circle cx="416.0" cy="686" r="3.05" fill="#000" stroke="#000" stroke-width="1.55"/>
<circle cx="419.4" cy="686" r="3.05" fill="#fff" stroke="#000" stroke-width="1.55"/>
<circle cx="421.5" cy="686" r="3.05" fill="#000" stroke="#000" stroke-width="1.55"/>
<circle cx="423.8" cy="686" r="3.05" fill="#fff" stroke="#000" stroke-width="1.55"/>
<circle cx="426.0" cy="686" r="3.05" fill="#000" stroke="#000" stroke-width="1.55"/>
<circle cx="428.8" cy="686" r="3.05" fill="#fff" stroke="#000" stroke-width="1.55"/>
<circle cx="432.0" cy="686" r="3.05" fill="#000" stroke="#000" stroke-width="1.55"/>
<circle cx="435.6" cy="686" r="3.05" fill="#fff" stroke="#000" stroke-width="1.55"/>
<circle cx="438.0" cy="686" r="3.05" fill="#000" stroke="#000" stroke-width="1.55"/>
<circle cx="440.6" cy="686" r="3.05" fill="#fff" stroke="#000" stroke-width="1.55"/>
<circle cx="444.0" cy="686" r="3.05" fill="#000" stroke="#000" stroke-width="1.55"/>
<circle cx="447.5" cy="686" r="3.05" fill="#fff" stroke="#000" stroke-width="1.55"/>
<circle cx="451.0" cy="686" r="3.05" fill="#000" stroke="#000" stroke-width="1.55"/>
<circle cx="456.9" cy="686" r="3.05" fill="#fff" stroke="#000" stroke-width="1.55"/>
<circle cx="459.0" cy="686" r="3.05" fill="#000" stroke="#000" stroke-width="1.55"/>
<circle cx="463.8" cy="686" r="3.05" fill="#fff" stroke="#000" stroke-width="1.55"/>
<circle cx="465.6" cy="686" r="3.05" fill="#fff" stroke="#000" stroke-width="1.55"/>
<circle cx="468.0" cy="686" r="3.05" fill="#000" stroke="#000" stroke-width="1.55"/>
<circle cx="470.6" cy="686" r="3.05" fill="#fff" stroke="#000" stroke-width="1.55"/>
<circle cx="473.0" cy="686" r="3.05" fill="#000" stroke="#000" stroke-width="1.55"/>
<circle cx="475.0" cy="686" r="3.05" fill="#fff" stroke="#000" stroke-width="1.55"/>
<circle cx="477.5" cy="686" r="3.05" fill="#000" stroke="#000" stroke-width="1.55"/>
<circle cx="480.0" cy="686" r="3.05" fill="#fff" stroke="#000" stroke-width="1.55"/>
<circle cx="482.5" cy="686" r="3.05" fill="#000" stroke="#000" stroke-width="1.55"/>
<circle cx="485.0" cy="686" r="3.05" fill="#fff" stroke="#000" stroke-width="1.55"/>
<circle cx="486.5" cy="686" r="3.05" fill="#000" stroke="#000" stroke-width="1.55"/>
<circle cx="488.8" cy="686" r="3.05" fill="#fff" stroke="#000" stroke-width="1.55"/>
<circle cx="491.0" cy="686" r="3.05" fill="#000" stroke="#000" stroke-width="1.55"/>
<circle cx="493.8" cy="686" r="3.05" fill="#fff" stroke="#000" stroke-width="1.55"/>
<circle cx="497.0" cy="686" r="3.05" fill="#000" stroke="#000" stroke-width="1.55"/>
<circle cx="501.2" cy="686" r="3.05" fill="#fff" stroke="#000" stroke-width="1.55"/>
<circle cx="504.0" cy="686" r="3.05" fill="#000" stroke="#000" stroke-width="1.55"/>
<circle cx="506.9" cy="686" r="3.05" fill="#fff" stroke="#000" stroke-width="1.55"/>
<circle cx="508.5" cy="686" r="3.05" fill="#000" stroke="#000" stroke-width="1.55"/>
<circle cx="510.6" cy="686" r="3.05" fill="#fff" stroke="#000" stroke-width="1.55"/>
<circle cx="513.0" cy="686" r="3.05" fill="#000" stroke="#000" stroke-width="1.55"/>
<circle cx="516.2" cy="686" r="3.05" fill="#fff" stroke="#000" stroke-width="1.55"/>
<circle cx="519.0" cy="686" r="3.05" fill="#000" stroke="#000" stroke-width="1.55"/>
<circle cx="521.0" cy="686" r="3.05" fill="#fff" stroke="#000" stroke-width="1.55"/>
<circle cx="523.0" cy="686" r="3.05" fill="#000" stroke="#000" stroke-width="1.55"/>
<circle cx="524.7" cy="686" r="3.05" fill="#fff" stroke="#000" stroke-width="1.55"/>
<circle cx="530.0" cy="686" r="3.05" fill="#000" stroke="#000" stroke-width="1.55"/>
<circle cx="535.0" cy="686" r="3.05" fill="#fff" stroke="#000" stroke-width="1.55"/>
<circle cx="539.0" cy="686" r="3.05" fill="#fff" stroke="#000" stroke-width="1.55"/>
<circle cx="544.0" cy="686" r="3.05" fill="#000" stroke="#000" stroke-width="1.55"/>
<circle cx="548.0" cy="686" r="3.05" fill="#000" stroke="#000" stroke-width="1.55"/>
<circle cx="552.0" cy="686" r="3.05" fill="#000" stroke="#000" stroke-width="1.55"/>
<circle cx="556.2" cy="686" r="3.05" fill="#fff" stroke="#000" stroke-width="1.55"/>
<circle cx="560.6" cy="686" r="3.05" fill="#fff" stroke="#000" stroke-width="1.55"/>
<circle cx="565.0" cy="686" r="3.05" fill="#fff" stroke="#000" stroke-width="1.55"/>
<circle cx="570.0" cy="686" r="3.05" fill="#000" stroke="#000" stroke-width="1.55"/>
<circle cx="575.3" cy="686" r="3.05" fill="#fff" stroke="#000" stroke-width="1.55"/>
<circle cx="578.0" cy="686" r="3.05" fill="#fff" stroke="#000" stroke-width="1.55"/>
<circle cx="581.2" cy="686" r="3.05" fill="#fff" stroke="#000" stroke-width="1.55"/>
<circle cx="586.0" cy="686" r="3.05" fill="#000" stroke="#000" stroke-width="1.55"/>
<circle cx="589.0" cy="686" r="3.05" fill="#000" stroke="#000" stroke-width="1.55"/>
<circle cx="593.8" cy="686" r="3.05" fill="#fff" stroke="#000" stroke-width="1.55"/>
<circle cx="596.0" cy="686" r="3.05" fill="#fff" stroke="#000" stroke-width="1.55"/>
<circle cx="598.0" cy="686" r="3.05" fill="#fff" stroke="#000" stroke-width="1.55"/>
<circle cx="604.0" cy="686" r="3.05" fill="#000" stroke="#000" stroke-width="1.55"/>
<circle cx="607.5" cy="686" r="3.05" fill="#000" stroke="#000" stroke-width="1.55"/>
<circle cx="619.0" cy="686" r="3.05" fill="#fff" stroke="#000" stroke-width="1.55"/>
<circle cx="621.0" cy="686" r="3.05" fill="#fff" stroke="#000" stroke-width="1.55"/>
<circle cx="623.5" cy="686" r="3.05" fill="#fff" stroke="#000" stroke-width="1.55"/>
<circle cx="634.5" cy="686" r="3.05" fill="#000" stroke="#000" stroke-width="1.55"/>
<circle cx="638.5" cy="686" r="3.05" fill="#000" stroke="#000" stroke-width="1.55"/>
<circle cx="649.0" cy="686" r="3.05" fill="#fff" stroke="#000" stroke-width="1.55"/>
<circle cx="652.0" cy="686" r="3.05" fill="#fff" stroke="#000" stroke-width="1.55"/>
<circle cx="655.0" cy="686" r="3.05" fill="#fff" stroke="#000" stroke-width="1.55"/>
<circle cx="663.2" cy="686" r="3.05" fill="#000" stroke="#000" stroke-width="1.55"/>
<circle cx="668.0" cy="686" r="3.05" fill="#000" stroke="#000" stroke-width="1.55"/>
<circle cx="673.0" cy="686" r="3.05" fill="#000" stroke="#000" stroke-width="1.55"/>
<circle cx="682.0" cy="686" r="3.05" fill="#fff" stroke="#000" stroke-width="1.55"/>
<circle cx="685.0" cy="686" r="3.05" fill="#fff" stroke="#000" stroke-width="1.55"/>
<circle cx="695.5" cy="686" r="3.05" fill="#000" stroke="#000" stroke-width="1.55"/>
<circle cx="698.5" cy="686" r="3.05" fill="#000" stroke="#000" stroke-width="1.55"/>
<circle cx="701.0" cy="686" r="3.05" fill="#000" stroke="#000" stroke-width="1.55"/>
<circle cx="709.0" cy="686" r="3.05" fill="#fff" stroke="#000" stroke-width="1.55"/>
<circle cx="711.2" cy="686" r="3.05" fill="#fff" stroke="#000" stroke-width="1.55"/>
<circle cx="714.2" cy="686" r="3.05" fill="#fff" stroke="#000" stroke-width="1.55"/>
<circle cx="725.5" cy="686" r="3.05" fill="#000" stroke="#000" stroke-width="1.55"/>
<circle cx="729.2" cy="686" r="3.05" fill="#000" stroke="#000" stroke-width="1.55"/>
<circle cx="736.0" cy="686" r="3.05" fill="#fff" stroke="#000" stroke-width="1.55"/>
<circle cx="739.8" cy="686" r="3.05" fill="#fff" stroke="#000" stroke-width="1.55"/>
<circle cx="742.8" cy="686" r="3.05" fill="#fff" stroke="#000" stroke-width="1.55"/>
<circle cx="747.5" cy="686" r="3.05" fill="#000" stroke="#000" stroke-width="1.55"/>
<circle cx="756.9" cy="686" r="3.05" fill="#fff" stroke="#000" stroke-width="1.55"/>
<circle cx="759.7" cy="686" r="3.05" fill="#fff" stroke="#000" stroke-width="1.55"/>
<circle cx="766.2" cy="686" r="3.05" fill="#000" stroke="#000" stroke-width="1.55"/>
<circle cx="768.1" cy="686" r="3.05" fill="#000" stroke="#000" stroke-width="1.55"/>
<circle cx="771.9" cy="686" r="3.05" fill="#000" stroke="#000" stroke-width="1.55"/>
<circle cx="775.0" cy="686" r="3.05" fill="#000" stroke="#000" stroke-width="1.55"/>
<circle cx="778.4" cy="686" r="3.05" fill="#000" stroke="#000" stroke-width="1.55"/>
<circle cx="785.0" cy="686" r="3.05" fill="#fff" stroke="#000" stroke-width="1.55"/>
<circle cx="786.9" cy="686" r="3.05" fill="#fff" stroke="#000" stroke-width="1.55"/>
<circle cx="789.7" cy="686" r="3.05" fill="#fff" stroke="#000" stroke-width="1.55"/>
<circle cx="792.5" cy="686" r="3.05" fill="#000" stroke="#000" stroke-width="1.55"/>
<circle cx="801.9" cy="686" r="3.05" fill="#000" stroke="#000" stroke-width="1.55"/>
<circle cx="811.2" cy="686" r="3.05" fill="#fff" stroke="#000" stroke-width="1.55"/>
<circle cx="814.0" cy="686" r="3.05" fill="#fff" stroke="#000" stroke-width="1.55"/>
<circle cx="831.9" cy="686" r="3.05" fill="#000" stroke="#000" stroke-width="1.55"/>
<circle cx="833.8" cy="686" r="3.05" fill="#000" stroke="#000" stroke-width="1.55"/>
<circle cx="844.0" cy="686" r="3.05" fill="#fff" stroke="#000" stroke-width="1.55"/>
<circle cx="846.0" cy="686" r="3.05" fill="#fff" stroke="#000" stroke-width="1.55"/>
<circle cx="853.4" cy="686" r="3.05" fill="#000" stroke="#000" stroke-width="1.55"/>
<circle cx="857.2" cy="686" r="3.05" fill="#000" stroke="#000" stroke-width="1.55"/>
<circle cx="869.4" cy="686" r="3.05" fill="#fff" stroke="#000" stroke-width="1.55"/>
<circle cx="872.0" cy="686" r="3.05" fill="#fff" stroke="#000" stroke-width="1.55"/>
<circle cx="875.0" cy="686" r="3.05" fill="#fff" stroke="#000" stroke-width="1.55"/>
<circle cx="885.3" cy="686" r="3.05" fill="#000" stroke="#000" stroke-width="1.55"/>
<circle cx="890.0" cy="686" r="3.05" fill="#000" stroke="#000" stroke-width="1.55"/>
<circle cx="897.5" cy="686" r="3.05" fill="#fff" stroke="#000" stroke-width="1.55"/>
<circle cx="900.3" cy="686" r="3.05" fill="#fff" stroke="#000" stroke-width="1.55"/>
<circle cx="906.9" cy="686" r="3.05" fill="#000" stroke="#000" stroke-width="1.55"/>
<circle cx="910.6" cy="686" r="3.05" fill="#000" stroke="#000" stroke-width="1.55"/>
<circle cx="917.2" cy="686" r="3.05" fill="#fff" stroke="#000" stroke-width="1.55"/>
<circle cx="920.0" cy="686" r="3.05" fill="#fff" stroke="#000" stroke-width="1.55"/>
<circle cx="921.9" cy="686" r="3.05" fill="#fff" stroke="#000" stroke-width="1.55"/>
<circle cx="927.5" cy="686" r="3.05" fill="#000" stroke="#000" stroke-width="1.55"/>
<circle cx="929.4" cy="686" r="3.05" fill="#fff" stroke="#000" stroke-width="1.55"/>
<circle cx="933.1" cy="686" r="3.05" fill="#fff" stroke="#000" stroke-width="1.55"/>
<circle cx="936.0" cy="686" r="3.05" fill="#fff" stroke="#000" stroke-width="1.55"/>
<circle cx="938.8" cy="686" r="3.05" fill="#000" stroke="#000" stroke-width="1.55"/>
<circle cx="941.6" cy="686" r="3.05" fill="#fff" stroke="#000" stroke-width="1.55"/>
<circle cx="951.9" cy="686" r="3.05" fill="#000" stroke="#000" stroke-width="1.55"/>
<circle cx="956.6" cy="686" r="3.05" fill="#fff" stroke="#000" stroke-width="1.55"/>
<circle cx="960.3" cy="686" r="3.05" fill="#000" stroke="#000" stroke-width="1.55"/>
<circle cx="964.0" cy="686" r="3.05" fill="#fff" stroke="#000" stroke-width="1.55"/>
<circle cx="968.8" cy="686" r="3.05" fill="#fff" stroke="#000" stroke-width="1.55"/>
<circle cx="970.6" cy="686" r="3.05" fill="#000" stroke="#000" stroke-width="1.55"/>
<circle cx="973.4" cy="686" r="3.05" fill="#fff" stroke="#000" stroke-width="1.55"/>
<circle cx="977.2" cy="686" r="3.05" fill="#000" stroke="#000" stroke-width="1.55"/>
<circle cx="986.6" cy="686" r="3.05" fill="#fff" stroke="#000" stroke-width="1.55"/>
<circle cx="992.0" cy="686" r="3.05" fill="#fff" stroke="#000" stroke-width="1.55"/>
<circle cx="994.5" cy="686" r="3.05" fill="#fff" stroke="#000" stroke-width="1.55"/>
<circle cx="1004.4" cy="686" r="3.05" fill="#000" stroke="#000" stroke-width="1.55"/>
<circle cx="1011.9" cy="686" r="3.05" fill="#000" stroke="#000" stroke-width="1.55"/>
<circle cx="1014.7" cy="686" r="3.05" fill="#000" stroke="#000" stroke-width="1.55"/>
<circle cx="1023.1" cy="686" r="3.05" fill="#fff" stroke="#000" stroke-width="1.55"/>
<circle cx="1025.0" cy="686" r="3.05" fill="#fff" stroke="#000" stroke-width="1.55"/>
<circle cx="1039.0" cy="686" r="3.05" fill="#000" stroke="#000" stroke-width="1.55"/>
<circle cx="1040.0" cy="686" r="3.05" fill="#000" stroke="#000" stroke-width="1.55"/>
<circle cx="1043.0" cy="686" r="3.05" fill="#000" stroke="#000" stroke-width="1.55"/>
<circle cx="1056.0" cy="686" r="3.05" fill="#fff" stroke="#000" stroke-width="1.55"/>
<circle cx="1057.5" cy="686" r="3.05" fill="#fff" stroke="#000" stroke-width="1.55"/>
<circle cx="1062.8" cy="686" r="3.05" fill="#fff" stroke="#000" stroke-width="1.55"/>
<circle cx="1065.0" cy="686" r="3.05" fill="#fff" stroke="#000" stroke-width="1.55"/>
<circle cx="1072.2" cy="686" r="3.05" fill="#000" stroke="#000" stroke-width="1.55"/>
<circle cx="1075.0" cy="686" r="3.05" fill="#000" stroke="#000" stroke-width="1.55"/>
<circle cx="1080.6" cy="686" r="3.05" fill="#fff" stroke="#000" stroke-width="1.55"/>
<circle cx="1083.4" cy="686" r="3.05" fill="#fff" stroke="#000" stroke-width="1.55"/>
<circle cx="1087.2" cy="686" r="3.05" fill="#000" stroke="#000" stroke-width="1.55"/>
<circle cx="1091.0" cy="686" r="3.05" fill="#000" stroke="#000" stroke-width="1.55"/>
<circle cx="1095.6" cy="686" r="3.05" fill="#fff" stroke="#000" stroke-width="1.55"/>
<circle cx="1098.4" cy="686" r="3.05" fill="#fff" stroke="#000" stroke-width="1.55"/>
<circle cx="1103.1" cy="686" r="3.05" fill="#fff" stroke="#000" stroke-width="1.55"/>
<circle cx="1106.0" cy="686" r="3.05" fill="#000" stroke="#000" stroke-width="1.55"/>
<circle cx="1109.7" cy="686" r="3.05" fill="#fff" stroke="#000" stroke-width="1.55"/>
<circle cx="1119.0" cy="686" r="3.05" fill="#000" stroke="#000" stroke-width="1.55"/>
<circle cx="1121.9" cy="686" r="3.05" fill="#000" stroke="#000" stroke-width="1.55"/>
<circle cx="1125.6" cy="686" r="3.05" fill="#000" stroke="#000" stroke-width="1.55"/>
<circle cx="1132.0" cy="686" r="3.05" fill="#fff" stroke="#000" stroke-width="1.55"/>
<circle cx="1135.0" cy="686" r="3.05" fill="#fff" stroke="#000" stroke-width="1.55"/>
<circle cx="1137.8" cy="686" r="3.05" fill="#fff" stroke="#000" stroke-width="1.55"/>
<circle cx="1143.0" cy="686" r="3.05" fill="#000" stroke="#000" stroke-width="1.55"/>
<circle cx="1147.5" cy="686" r="3.05" fill="#000" stroke="#000" stroke-width="1.55"/>
<circle cx="1156.6" cy="686" r="3.05" fill="#fff" stroke="#000" stroke-width="1.55"/>
<circle cx="1158.4" cy="686" r="3.05" fill="#fff" stroke="#000" stroke-width="1.55"/>
<circle cx="1168.0" cy="686" r="3.05" fill="#000" stroke="#000" stroke-width="1.55"/>
<circle cx="1170.6" cy="686" r="3.05" fill="#000" stroke="#000" stroke-width="1.55"/>
<circle cx="1172.5" cy="686" r="3.05" fill="#000" stroke="#000" stroke-width="1.55"/>
<circle cx="1181.9" cy="686" r="3.05" fill="#fff" stroke="#000" stroke-width="1.55"/>
<circle cx="1185.6" cy="686" r="3.05" fill="#000" stroke="#000" stroke-width="1.55"/>
<circle cx="1189.4" cy="686" r="3.05" fill="#000" stroke="#000" stroke-width="1.55"/>
<circle cx="1194.0" cy="686" r="3.05" fill="#fff" stroke="#000" stroke-width="1.55"/>
<circle cx="1197.5" cy="686" r="3.05" fill="#000" stroke="#000" stroke-width="1.55"/>
<circle cx="1202.5" cy="686" r="3.05" fill="#fff" stroke="#000" stroke-width="1.55"/>
<circle cx="1205.3" cy="686" r="3.05" fill="#000" stroke="#000" stroke-width="1.55"/>
<text transform="translate(143.1 714.9) rotate(-90)" text-anchor="middle" font-size="13.3" fill="#000" stroke="#000" stroke-width="0.3">G150</text>
<text transform="translate(153.1 657.8) rotate(-90)" text-anchor="middle" font-size="13.3" fill="#000" stroke="#000" stroke-width="0.3">G135</text>
<text transform="translate(158.9 714.9) rotate(-90)" text-anchor="middle" font-size="13.3" fill="#000" stroke="#000" stroke-width="0.3">G180</text>
<text transform="translate(171.1 657.8) rotate(-90)" text-anchor="middle" font-size="13.3" fill="#000" stroke="#000" stroke-width="0.3">H2O2</text>
<text transform="translate(179.0 714.9) rotate(-90)" text-anchor="middle" font-size="13.3" fill="#000" stroke="#000" stroke-width="0.3">Paraq</text>
<text transform="translate(187.7 657.8) rotate(-90)" text-anchor="middle" font-size="13.3" fill="#000" stroke="#000" stroke-width="0.3">Oxctl</text>
<text transform="translate(198.1 714.9) rotate(-90)" text-anchor="middle" font-size="13.3" fill="#000" stroke="#000" stroke-width="0.3">LBGexp</text>
<text transform="translate(210.5 657.8) rotate(-90)" text-anchor="middle" font-size="13.3" fill="#000" stroke="#000" stroke-width="0.3">dia15</text>
<text transform="translate(226.3 714.9) rotate(-90)" text-anchor="middle" font-size="13.3" fill="#000" stroke="#000" stroke-width="0.3">Diami</text>
<text transform="translate(237.6 657.8) rotate(-90)" text-anchor="middle" font-size="13.3" fill="#000" stroke="#000" stroke-width="0.3">dia5</text>
<text transform="translate(254.3 714.9) rotate(-90)" text-anchor="middle" font-size="13.3" fill="#000" stroke="#000" stroke-width="0.3">C90</text>
<text transform="translate(267.4 657.8) rotate(-90)" text-anchor="middle" font-size="13.3" fill="#000" stroke="#000" stroke-width="0.3">C30</text>
<text transform="translate(281.6 714.9) rotate(-90)" text-anchor="middle" font-size="13.3" fill="#000" stroke="#000" stroke-width="0.3">Cold</text>
<text transform="translate(296.8 657.8) rotate(-90)" text-anchor="middle" font-size="13.3" fill="#000" stroke="#000" stroke-width="0.3">LPh</text>
<text transform="translate(304.4 714.9) rotate(-90)" text-anchor="middle" font-size="13.3" fill="#000" stroke="#000" stroke-width="0.3">HPh</text>
<text transform="translate(314.5 657.8) rotate(-90)" text-anchor="middle" font-size="13.3" fill="#000" stroke="#000" stroke-width="0.3">aero</text>
<text transform="translate(332.2 714.9) rotate(-90)" text-anchor="middle" font-size="13.3" fill="#000" stroke="#000" stroke-width="0.3">nit</text>
<text transform="translate(343.1 657.8) rotate(-90)" text-anchor="middle" font-size="13.3" fill="#000" stroke="#000" stroke-width="0.3">ferm</text>
<text transform="translate(360.1 714.9) rotate(-90)" text-anchor="middle" font-size="13.3" fill="#000" stroke="#000" stroke-width="0.3">GM+150</text>
<text transform="translate(365.9 657.8) rotate(-90)" text-anchor="middle" font-size="13.3" fill="#000" stroke="#000" stroke-width="0.3">M9−tran</text>
<text transform="translate(375.1 714.9) rotate(-90)" text-anchor="middle" font-size="13.3" fill="#000" stroke="#000" stroke-width="0.3">MG+150</text>
<text transform="translate(382.0 657.8) rotate(-90)" text-anchor="middle" font-size="13.3" fill="#000" stroke="#000" stroke-width="0.3">MG+120</text>
<text transform="translate(387.1 714.9) rotate(-90)" text-anchor="middle" font-size="13.3" fill="#000" stroke="#000" stroke-width="0.3">MG+90</text>
<text transform="translate(393.1 657.8) rotate(-90)" text-anchor="middle" font-size="13.3" fill="#000" stroke="#000" stroke-width="0.3">MG+60</text>
<text transform="translate(398.1 714.9) rotate(-90)" text-anchor="middle" font-size="13.3" fill="#000" stroke="#000" stroke-width="0.3">MG+60</text>
<text transform="translate(400.1 657.8) rotate(-90)" text-anchor="middle" font-size="13.3" fill="#000" stroke="#000" stroke-width="0.3">MG+45</text>
<text transform="translate(405.1 714.9) rotate(-90)" text-anchor="middle" font-size="13.3" fill="#000" stroke="#000" stroke-width="0.3">MG+30</text>
<text transform="translate(407.1 657.8) rotate(-90)" text-anchor="middle" font-size="13.3" fill="#000" stroke="#000" stroke-width="0.3">MG+15</text>
<text transform="translate(411.1 714.9) rotate(-90)" text-anchor="middle" font-size="13.3" fill="#000" stroke="#000" stroke-width="0.3">MG+25</text>
<text transform="translate(413.1 657.8) rotate(-90)" text-anchor="middle" font-size="13.3" fill="#000" stroke="#000" stroke-width="0.3">MG+10</text>
<text transform="translate(416.1 714.9) rotate(-90)" text-anchor="middle" font-size="13.3" fill="#000" stroke="#000" stroke-width="0.3">MG+5</text>
<text transform="translate(419.1 657.8) rotate(-90)" text-anchor="middle" font-size="13.3" fill="#000" stroke="#000" stroke-width="0.3">MG+0</text>
<text transform="translate(422.1 714.9) rotate(-90)" text-anchor="middle" font-size="13.3" fill="#000" stroke="#000" stroke-width="0.3">MG+20</text>
<text transform="translate(425.1 657.8) rotate(-90)" text-anchor="middle" font-size="13.3" fill="#000" stroke="#000" stroke-width="0.3">MG−0.2</text>
<text transform="translate(428.1 714.9) rotate(-90)" text-anchor="middle" font-size="13.3" fill="#000" stroke="#000" stroke-width="0.3">MG+8</text>
<text transform="translate(431.1 657.8) rotate(-90)" text-anchor="middle" font-size="13.3" fill="#000" stroke="#000" stroke-width="0.3">MG+15</text>
<text transform="translate(435.1 714.9) rotate(-90)" text-anchor="middle" font-size="13.3" fill="#000" stroke="#000" stroke-width="0.3">GNK1</text>
<text transform="translate(447.6 657.8) rotate(-90)" text-anchor="middle" font-size="13.3" fill="#000" stroke="#000" stroke-width="0.3">MG−0.2</text>
<text transform="translate(441.1 714.9) rotate(-90)" text-anchor="middle" font-size="13.3" fill="#000" stroke="#000" stroke-width="0.3">GMK1</text>
<text transform="translate(453.1 657.8) rotate(-90)" text-anchor="middle" font-size="13.3" fill="#000" stroke="#000" stroke-width="0.3">Fru</text>
<text transform="translate(455.1 714.9) rotate(-90)" text-anchor="middle" font-size="13.3" fill="#000" stroke="#000" stroke-width="0.3">Glucon</text>
<text transform="translate(461.1 657.8) rotate(-90)" text-anchor="middle" font-size="13.3" fill="#000" stroke="#000" stroke-width="0.3">GM−0.2</text>
<text transform="translate(465.1 714.9) rotate(-90)" text-anchor="middle" font-size="13.3" fill="#000" stroke="#000" stroke-width="0.3">GM+0</text>
<text transform="translate(466.1 657.8) rotate(-90)" text-anchor="middle" font-size="13.3" fill="#000" stroke="#000" stroke-width="0.3">GM+5</text>
<text transform="translate(471.1 714.9) rotate(-90)" text-anchor="middle" font-size="13.3" fill="#000" stroke="#000" stroke-width="0.3">GM+10</text>
<text transform="translate(472.1 657.8) rotate(-90)" text-anchor="middle" font-size="13.3" fill="#000" stroke="#000" stroke-width="0.3">GM+15</text>
<text transform="translate(476.1 714.9) rotate(-90)" text-anchor="middle" font-size="13.3" fill="#000" stroke="#000" stroke-width="0.3">GM+20</text>
<text transform="translate(478.1 657.8) rotate(-90)" text-anchor="middle" font-size="13.3" fill="#000" stroke="#000" stroke-width="0.3">GM+30</text>
<text transform="translate(482.1 714.9) rotate(-90)" text-anchor="middle" font-size="13.3" fill="#000" stroke="#000" stroke-width="0.3">GM+45</text>
<text transform="translate(484.1 657.8) rotate(-90)" text-anchor="middle" font-size="13.3" fill="#000" stroke="#000" stroke-width="0.3">GM+45</text>
<text transform="translate(488.1 714.9) rotate(-90)" text-anchor="middle" font-size="13.3" fill="#000" stroke="#000" stroke-width="0.3">GM+60</text>
<text transform="translate(490.1 657.8) rotate(-90)" text-anchor="middle" font-size="13.3" fill="#000" stroke="#000" stroke-width="0.3">GM+90</text>
<text transform="translate(494.1 714.9) rotate(-90)" text-anchor="middle" font-size="13.3" fill="#000" stroke="#000" stroke-width="0.3">GM+120</text>
<text transform="translate(496.1 657.8) rotate(-90)" text-anchor="middle" font-size="13.3" fill="#000" stroke="#000" stroke-width="0.3">GM+150</text>
<text transform="translate(499.1 714.9) rotate(-90)" text-anchor="middle" font-size="13.3" fill="#000" stroke="#000" stroke-width="0.3">GM+8</text>
<text transform="translate(502.1 657.8) rotate(-90)" text-anchor="middle" font-size="13.3" fill="#000" stroke="#000" stroke-width="0.3">GM+60</text>
<text transform="translate(505.1 714.9) rotate(-90)" text-anchor="middle" font-size="13.3" fill="#000" stroke="#000" stroke-width="0.3">GM+90</text>
<text transform="translate(509.1 657.8) rotate(-90)" text-anchor="middle" font-size="13.3" fill="#000" stroke="#000" stroke-width="0.3">GM+45</text>
<text transform="translate(511.1 714.9) rotate(-90)" text-anchor="middle" font-size="13.3" fill="#000" stroke="#000" stroke-width="0.3">GM+30</text>
<text transform="translate(515.1 657.8) rotate(-90)" text-anchor="middle" font-size="13.3" fill="#000" stroke="#000" stroke-width="0.3">GM+60</text>
<text transform="translate(517.1 714.9) rotate(-90)" text-anchor="middle" font-size="13.3" fill="#000" stroke="#000" stroke-width="0.3">GM+5</text>
<text transform="translate(521.1 657.8) rotate(-90)" text-anchor="middle" font-size="13.3" fill="#000" stroke="#000" stroke-width="0.3">GM+15</text>
<text transform="translate(525.1 714.9) rotate(-90)" text-anchor="middle" font-size="13.3" fill="#000" stroke="#000" stroke-width="0.3">GM+20</text>
<text transform="translate(527.1 657.8) rotate(-90)" text-anchor="middle" font-size="13.3" fill="#000" stroke="#000" stroke-width="0.3">GM+30</text>
<text transform="translate(531.1 714.9) rotate(-90)" text-anchor="middle" font-size="13.3" fill="#000" stroke="#000" stroke-width="0.3">GM+45</text>
<text transform="translate(534.5 657.8) rotate(-90)" text-anchor="middle" font-size="13.3" fill="#000" stroke="#000" stroke-width="0.3">M9−exp</text>
<text transform="translate(547.6 714.9) rotate(-90)" text-anchor="middle" font-size="13.3" fill="#000" stroke="#000" stroke-width="0.3">M/G</text>
<text transform="translate(562.2 657.8) rotate(-90)" text-anchor="middle" font-size="13.3" fill="#000" stroke="#000" stroke-width="0.3">Mal</text>
<text transform="translate(574.5 714.9) rotate(-90)" text-anchor="middle" font-size="13.3" fill="#000" stroke="#000" stroke-width="0.3">Fru</text>
<text transform="translate(580.6 657.8) rotate(-90)" text-anchor="middle" font-size="13.3" fill="#000" stroke="#000" stroke-width="0.3">Glu</text>
<text transform="translate(590.2 714.9) rotate(-90)" text-anchor="middle" font-size="13.3" fill="#000" stroke="#000" stroke-width="0.3">SMM</text>
<text transform="translate(598.1 657.8) rotate(-90)" text-anchor="middle" font-size="13.3" fill="#000" stroke="#000" stroke-width="0.3">BMM</text>
<text transform="translate(608.6 714.9) rotate(-90)" text-anchor="middle" font-size="13.3" fill="#000" stroke="#000" stroke-width="0.3">Heat</text>
<text transform="translate(624.3 657.8) rotate(-90)" text-anchor="middle" font-size="13.3" fill="#000" stroke="#000" stroke-width="0.3">Etha</text>
<text transform="translate(639.1 714.9) rotate(-90)" text-anchor="middle" font-size="13.3" fill="#000" stroke="#000" stroke-width="0.3">Salt</text>
<text transform="translate(653.1 657.8) rotate(-90)" text-anchor="middle" font-size="13.3" fill="#000" stroke="#000" stroke-width="0.3">Gly</text>
<text transform="translate(667.1 714.9) rotate(-90)" text-anchor="middle" font-size="13.3" fill="#000" stroke="#000" stroke-width="0.3">HiTm</text>
<text transform="translate(686.4 657.8) rotate(-90)" text-anchor="middle" font-size="13.3" fill="#000" stroke="#000" stroke-width="0.3">HiOs</text>
<text transform="translate(699.5 714.9) rotate(-90)" text-anchor="middle" font-size="13.3" fill="#000" stroke="#000" stroke-width="0.3">S1</text>
<text transform="translate(712.6 657.8) rotate(-90)" text-anchor="middle" font-size="13.3" fill="#000" stroke="#000" stroke-width="0.3">S2</text>
<text transform="translate(729.6 714.9) rotate(-90)" text-anchor="middle" font-size="13.3" fill="#000" stroke="#000" stroke-width="0.3">S3</text>
<text transform="translate(741.8 657.8) rotate(-90)" text-anchor="middle" font-size="13.3" fill="#000" stroke="#000" stroke-width="0.3">S4</text>
<text transform="translate(752.3 714.9) rotate(-90)" text-anchor="middle" font-size="13.3" fill="#000" stroke="#000" stroke-width="0.3">S3</text>
<text transform="translate(761.1 657.8) rotate(-90)" text-anchor="middle" font-size="13.3" fill="#000" stroke="#000" stroke-width="0.3">S5</text>
<text transform="translate(769.8 714.9) rotate(-90)" text-anchor="middle" font-size="13.3" fill="#000" stroke="#000" stroke-width="0.3">S6</text>
<text transform="translate(789.1 657.8) rotate(-90)" text-anchor="middle" font-size="13.3" fill="#000" stroke="#000" stroke-width="0.3">S7</text>
<text transform="translate(796.1 714.9) rotate(-90)" text-anchor="middle" font-size="13.3" fill="#000" stroke="#000" stroke-width="0.3">S8</text>
<text transform="translate(816.1 657.8) rotate(-90)" text-anchor="middle" font-size="13.3" fill="#000" stroke="#000" stroke-width="0.3">S6</text>
<text transform="translate(836.3 714.9) rotate(-90)" text-anchor="middle" font-size="13.3" fill="#000" stroke="#000" stroke-width="0.3">BT</text>
<text transform="translate(848.5 657.8) rotate(-90)" text-anchor="middle" font-size="13.3" fill="#000" stroke="#000" stroke-width="0.3">B36</text>
<text transform="translate(857.3 714.9) rotate(-90)" text-anchor="middle" font-size="13.3" fill="#000" stroke="#000" stroke-width="0.3">B60</text>
<text transform="translate(874.8 657.8) rotate(-90)" text-anchor="middle" font-size="13.3" fill="#000" stroke="#000" stroke-width="0.3">LoTm</text>
<text transform="translate(888.8 714.9) rotate(-90)" text-anchor="middle" font-size="13.3" fill="#000" stroke="#000" stroke-width="0.3">Pyr</text>
<text transform="translate(901.4 657.8) rotate(-90)" text-anchor="middle" font-size="13.3" fill="#000" stroke="#000" stroke-width="0.3">G/S</text>
<text transform="translate(912.7 714.9) rotate(-90)" text-anchor="middle" font-size="13.3" fill="#000" stroke="#000" stroke-width="0.3">Glucon</text>
<text transform="translate(922.3 657.8) rotate(-90)" text-anchor="middle" font-size="13.3" fill="#000" stroke="#000" stroke-width="0.3">SMMPr</text>
<text transform="translate(929.1 714.9) rotate(-90)" text-anchor="middle" font-size="13.3" fill="#000" stroke="#000" stroke-width="0.3">T−5.40H</text>
<text transform="translate(932.8 657.8) rotate(-90)" text-anchor="middle" font-size="13.3" fill="#000" stroke="#000" stroke-width="0.3">T−4.40H</text>
<text transform="translate(934.1 714.9) rotate(-90)" text-anchor="middle" font-size="13.3" fill="#000" stroke="#000" stroke-width="0.3">T−3.40H</text>
<text transform="translate(937.1 657.8) rotate(-90)" text-anchor="middle" font-size="13.3" fill="#000" stroke="#000" stroke-width="0.3">T−2.40H</text>
<text transform="translate(940.1 714.9) rotate(-90)" text-anchor="middle" font-size="13.3" fill="#000" stroke="#000" stroke-width="0.3">T−1.40H</text>
<text transform="translate(943.3 657.8) rotate(-90)" text-anchor="middle" font-size="13.3" fill="#000" stroke="#000" stroke-width="0.3">T−0.40H</text>
<text transform="translate(954.7 714.9) rotate(-90)" text-anchor="middle" font-size="13.3" fill="#000" stroke="#000" stroke-width="0.3">T0.30H</text>
<text transform="translate(960.8 657.8) rotate(-90)" text-anchor="middle" font-size="13.3" fill="#000" stroke="#000" stroke-width="0.3">T1.0H</text>
<text transform="translate(961.1 714.9) rotate(-90)" text-anchor="middle" font-size="13.3" fill="#000" stroke="#000" stroke-width="0.3">T1.30H</text>
<text transform="translate(966.9 657.8) rotate(-90)" text-anchor="middle" font-size="13.3" fill="#000" stroke="#000" stroke-width="0.3">T2.0H</text>
<text transform="translate(968.1 714.9) rotate(-90)" text-anchor="middle" font-size="13.3" fill="#000" stroke="#000" stroke-width="0.3">T2.30H</text>
<text transform="translate(973.1 657.8) rotate(-90)" text-anchor="middle" font-size="13.3" fill="#000" stroke="#000" stroke-width="0.3">T3.0H</text>
<text transform="translate(975.1 714.9) rotate(-90)" text-anchor="middle" font-size="13.3" fill="#000" stroke="#000" stroke-width="0.3">T3.30H</text>
<text transform="translate(978.3 657.8) rotate(-90)" text-anchor="middle" font-size="13.3" fill="#000" stroke="#000" stroke-width="0.3">T4.0H</text>
<text transform="translate(982.7 714.9) rotate(-90)" text-anchor="middle" font-size="13.3" fill="#000" stroke="#000" stroke-width="0.3">T5.0H</text>
<text transform="translate(990.6 657.8) rotate(-90)" text-anchor="middle" font-size="13.3" fill="#000" stroke="#000" stroke-width="0.3">M9−stat</text>
<text transform="translate(1009.8 714.9) rotate(-90)" text-anchor="middle" font-size="13.3" fill="#000" stroke="#000" stroke-width="0.3">BC</text>
<text transform="translate(1027.3 657.8) rotate(-90)" text-anchor="middle" font-size="13.3" fill="#000" stroke="#000" stroke-width="0.3">Sw</text>
<text transform="translate(1043.1 714.9) rotate(-90)" text-anchor="middle" font-size="13.3" fill="#000" stroke="#000" stroke-width="0.3">LPhT</text>
<text transform="translate(1060.6 657.8) rotate(-90)" text-anchor="middle" font-size="13.3" fill="#000" stroke="#000" stroke-width="0.3">LBGstat</text>
<text transform="translate(1076.5 714.9) rotate(-90)" text-anchor="middle" font-size="13.3" fill="#000" stroke="#000" stroke-width="0.3">LBGtran</text>
<text transform="translate(1085.2 657.8) rotate(-90)" text-anchor="middle" font-size="13.3" fill="#000" stroke="#000" stroke-width="0.3">M0t45</text>
<text transform="translate(1091.3 714.9) rotate(-90)" text-anchor="middle" font-size="13.3" fill="#000" stroke="#000" stroke-width="0.3">M40t45</text>
<text transform="translate(1100.1 657.8) rotate(-90)" text-anchor="middle" font-size="13.3" fill="#000" stroke="#000" stroke-width="0.3">Lbtran</text>
<text transform="translate(1109.7 714.9) rotate(-90)" text-anchor="middle" font-size="13.3" fill="#000" stroke="#000" stroke-width="0.3">Mt0</text>
<text transform="translate(1114.1 657.8) rotate(-90)" text-anchor="middle" font-size="13.3" fill="#000" stroke="#000" stroke-width="0.3">M40t45</text>
<text transform="translate(1123.7 714.9) rotate(-90)" text-anchor="middle" font-size="13.3" fill="#000" stroke="#000" stroke-width="0.3">M40t90</text>
<text transform="translate(1135.9 657.8) rotate(-90)" text-anchor="middle" font-size="13.3" fill="#000" stroke="#000" stroke-width="0.3">M0t90</text>
<text transform="translate(1148.1 714.9) rotate(-90)" text-anchor="middle" font-size="13.3" fill="#000" stroke="#000" stroke-width="0.3">Lbstat</text>
<text transform="translate(1160.4 657.8) rotate(-90)" text-anchor="middle" font-size="13.3" fill="#000" stroke="#000" stroke-width="0.3">BI</text>
<text transform="translate(1172.7 714.9) rotate(-90)" text-anchor="middle" font-size="13.3" fill="#000" stroke="#000" stroke-width="0.3">S0</text>
<text transform="translate(1187.5 657.8) rotate(-90)" text-anchor="middle" font-size="13.3" fill="#000" stroke="#000" stroke-width="0.3">M0t45</text>
<text transform="translate(1191.1 714.9) rotate(-90)" text-anchor="middle" font-size="13.3" fill="#000" stroke="#000" stroke-width="0.3">dia0</text>
<text transform="translate(1198.1 657.8) rotate(-90)" text-anchor="middle" font-size="13.3" fill="#000" stroke="#000" stroke-width="0.3">Lbexp</text>
<text transform="translate(1203.3 714.9) rotate(-90)" text-anchor="middle" font-size="13.3" fill="#000" stroke="#000" stroke-width="0.3">Mt0</text>
<text transform="translate(1208.5 657.8) rotate(-90)" text-anchor="middle" font-size="13.3" fill="#000" stroke="#000" stroke-width="0.3">Lbexp</text>
<text transform="translate(1208.5 714.9) rotate(-90)" text-anchor="middle" font-size="13.3" fill="#000" stroke="#000" stroke-width="0.3">Mt0</text>
</svg></body></html>
